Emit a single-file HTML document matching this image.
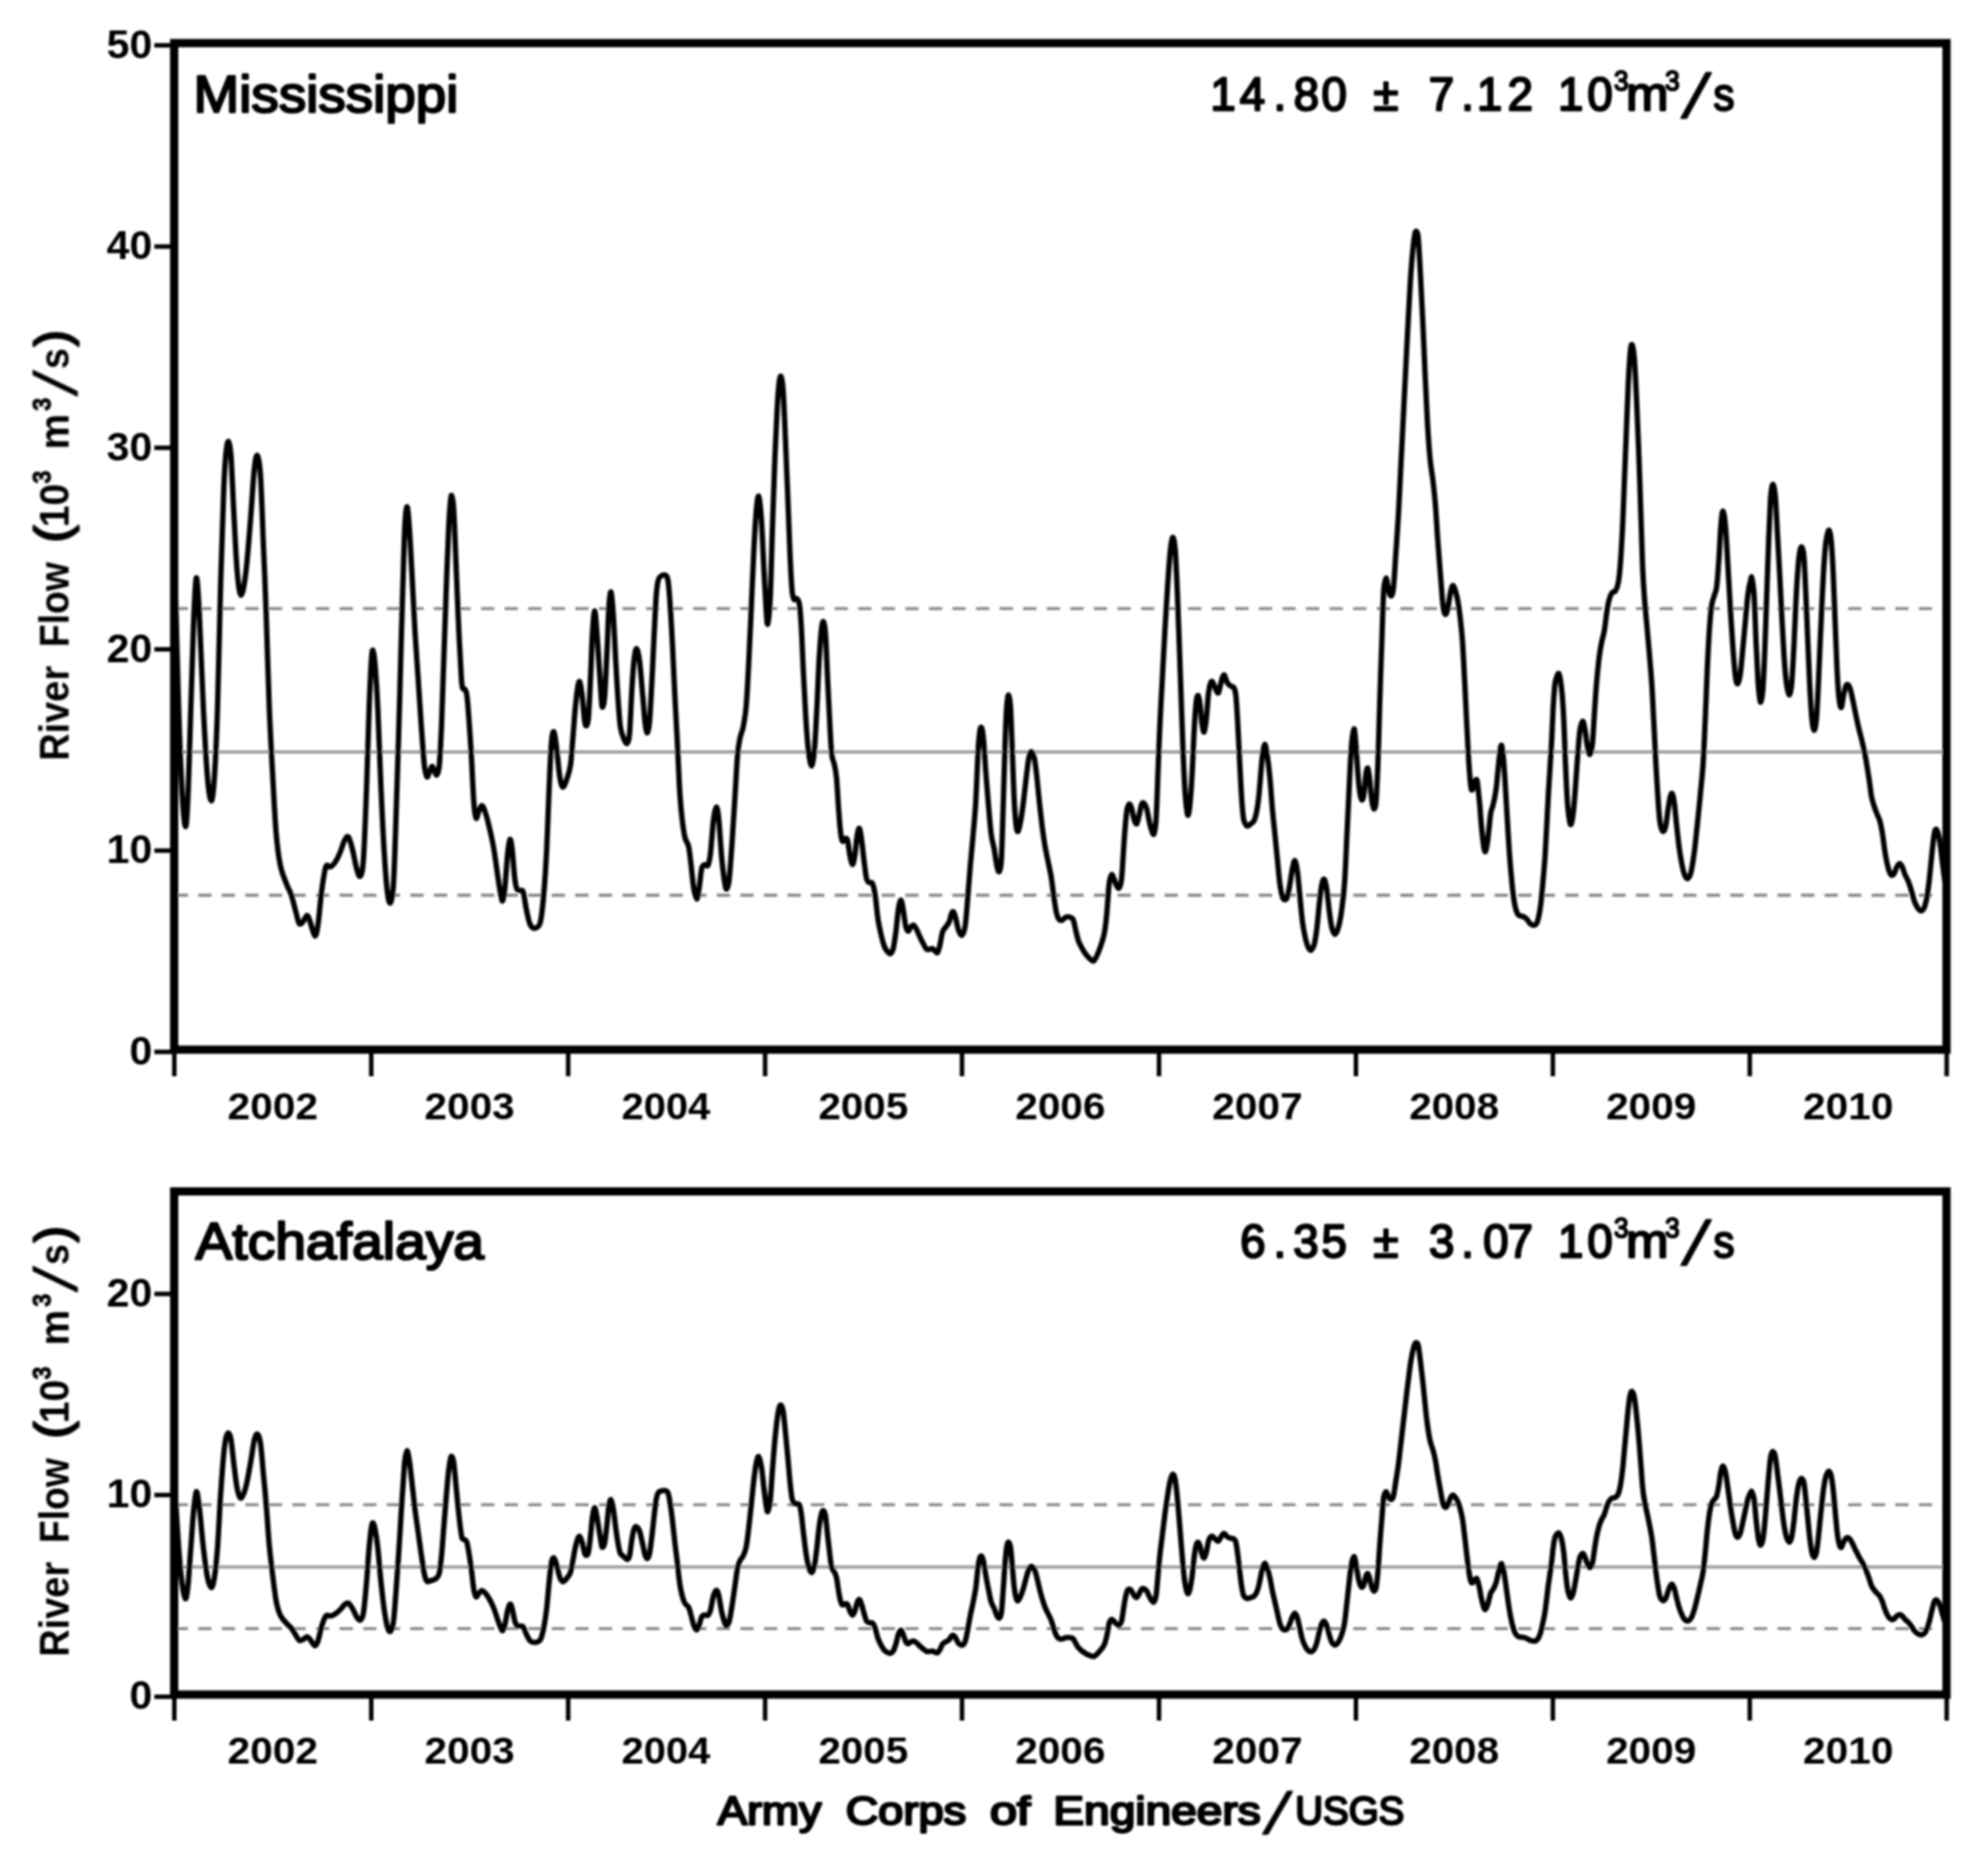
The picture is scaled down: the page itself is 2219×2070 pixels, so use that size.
<!DOCTYPE html>
<html lang="en"><head><meta charset="utf-8"><title>River Flow</title>
<style>html,body{margin:0;padding:0;background:#fff}svg{display:block}text{font-family:"Liberation Sans",sans-serif;fill:#000}.b{font-weight:bold}.m{stroke:#000;stroke-width:2.3px;stroke-linejoin:round}</style></head><body>
<svg width="2219" height="2070" viewBox="0 0 2219 2070">
<rect width="2219" height="2070" fill="#fff"/>
<filter id="bl" filterUnits="userSpaceOnUse" x="0" y="0" width="2219" height="2070"><feGaussianBlur stdDeviation="0.8"/></filter>
<g filter="url(#bl)">
<defs><clipPath id="c1"><rect x="194.4" y="48.1" width="1978.2999999999997" height="1123.2"/></clipPath><clipPath id="c2"><rect x="194.4" y="1329.5" width="1978.2999999999997" height="561.5"/></clipPath></defs>
<line x1="194.9" y1="679.2" x2="2172.7" y2="679.2" stroke="#878787" stroke-width="3.3" stroke-dasharray="14.8 11.51"/>
<line x1="194.9" y1="999" x2="2172.7" y2="999" stroke="#878787" stroke-width="3.3" stroke-dasharray="14.8 11.51"/>
<line x1="194.4" y1="839.2" x2="2172.7" y2="839.2" stroke="#a0a0a0" stroke-width="3.7"/>
<line x1="194.9" y1="1679.2" x2="2172.7" y2="1679.2" stroke="#878787" stroke-width="3.3" stroke-dasharray="14.8 11.51"/>
<line x1="194.9" y1="1817.4" x2="2172.7" y2="1817.4" stroke="#878787" stroke-width="3.3" stroke-dasharray="14.8 11.51"/>
<line x1="194.4" y1="1748.7" x2="2172.7" y2="1748.7" stroke="#a0a0a0" stroke-width="3.7"/>
<g clip-path="url(#c1)"><path d="M194.8,622.2C195.6,650.2 198.1,747.8 199.4,790.4C200.8,833.0 201.7,856.1 202.9,878.0C204.1,899.9 205.6,918.9 206.7,921.8C207.8,924.7 208.4,917.4 209.5,895.5C210.6,873.6 211.9,822.5 213.0,790.4C214.1,758.3 214.8,727.0 215.8,702.8C216.8,678.6 217.9,647.9 219.0,645.0C220.1,642.1 221.2,661.1 222.5,685.3C223.8,709.5 225.5,760.0 227.0,790.4C228.5,820.8 230.1,850.3 231.6,867.5C233.1,884.7 234.5,893.7 235.8,893.7C237.1,893.7 238.1,884.7 239.3,867.5C240.5,850.3 241.6,826.6 242.8,790.4C244.0,754.2 245.1,691.1 246.3,650.2C247.5,609.3 248.8,569.3 249.8,545.1C250.8,520.9 251.4,513.5 252.3,504.8C253.2,496.1 254.2,491.7 255.1,492.6C256.0,493.5 256.8,495.5 257.9,510.1C258.9,524.7 260.2,558.6 261.4,580.2C262.6,601.8 263.6,625.7 264.9,639.7C266.2,653.7 267.5,664.2 269.1,664.2C270.7,664.2 272.6,653.7 274.3,639.7C276.1,625.7 278.0,599.5 279.6,580.2C281.2,560.9 282.5,536.1 283.8,524.1C285.1,512.1 286.1,507.1 287.3,508.3C288.5,509.5 289.6,513.3 290.8,531.1C292.0,548.9 293.2,589.5 294.3,615.2C295.4,640.9 296.1,656.1 297.1,685.3C298.2,714.5 299.4,761.2 300.6,790.4C301.8,819.6 302.8,837.1 304.1,860.5C305.4,883.9 306.8,913.0 308.3,930.5C309.8,948.0 311.0,956.2 312.9,965.6C314.8,975.0 317.8,981.1 319.9,986.6C321.9,992.1 323.4,993.6 325.2,998.9C326.9,1004.1 328.9,1012.9 330.4,1018.1C331.8,1023.4 332.6,1028.7 333.9,1030.4C335.2,1032.2 336.6,1030.1 338.1,1028.6C339.6,1027.1 341.4,1021.6 342.7,1021.6C344.0,1021.6 344.8,1024.8 346.2,1028.6C347.6,1032.4 349.9,1043.8 351.4,1044.4C352.8,1045.0 353.6,1040.7 354.9,1032.2C356.2,1023.7 357.6,1004.4 359.1,993.6C360.6,982.8 362.1,971.7 363.7,967.3C365.3,962.9 367.2,968.2 369.0,967.3C370.8,966.4 372.4,964.7 374.2,962.1C375.9,959.5 377.8,955.7 379.5,951.6C381.2,947.5 383.1,940.4 384.7,937.5C386.3,934.6 387.4,932.2 388.9,934.0C390.4,935.8 392.0,942.2 393.5,948.1C395.0,954.0 396.6,964.2 398.0,969.1C399.4,974.0 400.9,979.5 402.2,977.8C403.5,976.0 404.5,975.2 405.7,958.6C406.9,942.0 408.1,906.0 409.2,878.0C410.2,850.0 411.1,813.8 412.0,790.4C412.9,767.0 413.8,748.6 414.5,737.8C415.2,727.0 415.6,725.0 416.3,725.6C417.0,726.2 417.7,730.5 418.6,741.3C419.5,752.1 420.6,767.6 421.7,790.4C422.8,813.2 424.0,851.7 425.2,878.0C426.4,904.3 427.5,928.8 428.7,948.1C429.9,967.4 431.0,983.7 432.2,993.6C433.4,1003.5 434.5,1008.8 435.7,1007.6C436.9,1006.4 438.1,1002.4 439.2,986.6C440.2,970.8 441.1,939.9 442.0,913.0C442.9,886.1 443.9,857.5 444.8,825.4C445.8,793.3 446.9,749.5 447.7,720.3C448.5,691.1 449.1,672.4 449.8,650.2C450.5,628.0 451.1,601.3 451.9,587.2C452.6,573.1 453.5,565.4 454.3,565.4C455.1,565.4 455.9,575.4 456.8,587.2C457.7,599.0 458.6,616.9 459.6,636.2C460.7,655.5 461.9,682.9 463.1,702.8C464.3,722.6 465.4,737.8 466.6,755.3C467.8,772.8 468.9,791.5 470.1,807.9C471.3,824.3 472.6,843.7 473.6,853.5C474.7,863.3 475.5,865.3 476.4,866.8C477.3,868.2 478.2,864.1 479.2,862.2C480.2,860.3 481.3,855.5 482.3,855.2C483.3,854.9 484.2,858.9 485.1,860.5C486.0,862.1 486.7,865.9 487.6,864.7C488.5,863.5 489.5,863.0 490.4,853.5C491.3,844.0 492.1,827.2 492.9,807.9C493.7,788.6 494.4,762.9 495.3,737.8C496.2,712.7 497.2,682.3 498.1,657.2C499.0,632.1 500.1,603.8 500.9,587.2C501.7,570.6 502.4,563.0 503.0,557.4C503.6,551.8 503.8,551.9 504.4,553.9C505.0,555.9 505.7,555.9 506.5,569.6C507.3,583.3 508.4,614.0 509.3,636.2C510.2,658.4 511.2,682.9 512.1,702.8C513.0,722.6 514.2,744.5 514.9,755.3C515.6,766.1 515.6,765.2 516.3,767.6C517.0,770.0 518.3,767.9 519.1,769.4C519.9,770.9 520.5,771.1 521.2,776.4C521.9,781.6 522.5,789.8 523.3,800.9C524.1,812.0 525.2,827.1 526.1,842.9C527.0,858.7 528.0,883.8 528.9,895.5C529.8,907.2 530.5,911.2 531.4,913.0C532.3,914.8 533.2,908.3 534.2,906.0C535.2,903.7 536.6,899.3 537.7,899.0C538.8,898.7 539.6,900.8 540.9,904.3C542.2,907.8 543.8,913.3 545.4,920.0C547.0,926.7 549.0,934.7 550.7,944.6C552.5,954.5 554.5,970.3 555.9,979.6C557.3,988.9 558.5,996.4 559.4,1000.6C560.3,1004.8 560.5,1006.5 561.2,1004.8C561.9,1003.0 562.7,998.4 563.6,990.1C564.5,981.8 565.5,964.0 566.4,955.1C567.3,946.2 568.3,938.0 569.2,936.8C570.1,935.6 570.8,941.0 571.7,948.1C572.6,955.2 573.6,972.3 574.5,979.6C575.4,986.9 575.9,989.6 576.9,991.9C577.9,994.2 579.2,993.0 580.4,993.6C581.6,994.2 582.8,991.9 584.0,995.4C585.2,998.9 586.2,1008.5 587.5,1014.6C588.8,1020.7 590.2,1028.7 592.0,1032.2C593.8,1035.7 596.1,1036.3 598.0,1035.7C599.9,1035.1 601.8,1034.4 603.2,1028.6C604.7,1022.7 605.5,1014.0 606.7,1000.6C607.9,987.2 609.2,968.5 610.2,948.1C611.2,927.7 612.1,897.9 613.0,878.0C613.9,858.1 614.6,839.1 615.5,828.9C616.4,818.7 617.3,815.5 618.3,816.7C619.3,817.9 620.3,827.4 621.4,835.9C622.5,844.4 623.7,860.4 624.9,867.5C626.1,874.6 627.1,878.4 628.5,878.4C629.9,878.4 631.9,871.6 633.3,867.5C634.7,863.4 635.8,860.5 636.8,853.5C637.8,846.5 638.4,835.9 639.3,825.4C640.2,814.9 641.2,799.7 642.1,790.4C643.0,781.1 643.7,774.4 644.5,769.4C645.3,764.4 646.1,759.4 647.0,760.6C647.9,761.8 648.9,769.1 649.8,776.4C650.7,783.7 651.8,798.8 652.6,804.4C653.4,810.0 654.0,810.3 654.7,809.7C655.4,809.1 656.0,810.0 656.8,800.9C657.5,791.8 658.5,771.1 659.2,755.3C660.0,739.5 660.5,718.5 661.3,706.3C662.1,694.0 663.0,681.8 663.8,681.8C664.6,681.8 665.4,695.2 666.3,706.3C667.2,717.4 668.2,735.4 669.1,748.3C670.0,761.1 670.9,776.7 671.5,783.4C672.1,790.1 672.3,789.8 672.9,788.6C673.5,787.4 674.2,786.6 675.0,776.4C675.8,766.2 676.7,743.6 677.5,727.3C678.3,710.9 678.9,689.4 679.6,678.3C680.4,667.2 681.2,659.5 682.0,660.7C682.8,661.9 683.6,672.4 684.5,685.3C685.4,698.1 686.4,721.4 687.3,737.8C688.2,754.1 689.2,771.1 690.1,783.4C691.0,795.7 691.5,804.7 692.5,811.4C693.5,818.1 694.8,820.7 696.0,823.7C697.2,826.7 698.8,830.5 699.9,829.6C701.0,828.7 701.8,827.9 702.7,818.4C703.6,808.9 704.3,786.3 705.1,772.9C705.9,759.5 706.7,746.0 707.6,737.8C708.5,729.6 709.4,723.8 710.4,723.8C711.4,723.8 712.7,729.0 713.9,737.8C715.1,746.6 716.3,764.7 717.4,776.4C718.5,788.1 719.3,801.0 720.2,807.9C721.1,814.8 721.9,818.3 722.7,817.7C723.5,817.1 724.2,814.8 725.1,804.4C726.0,794.0 727.0,772.2 727.9,755.3C728.8,738.4 729.6,718.0 730.4,702.8C731.2,687.6 731.8,673.6 732.5,664.2C733.2,654.9 733.9,650.3 734.9,646.7C735.9,643.1 737.1,643.3 738.4,642.5C739.7,641.7 741.4,641.1 742.6,641.8C743.8,642.5 744.6,642.4 745.4,646.7C746.2,651.0 746.7,656.7 747.5,667.8C748.3,678.9 749.4,695.8 750.3,713.3C751.2,730.8 752.2,754.2 753.1,772.9C754.0,791.6 755.0,807.9 755.9,825.4C756.8,842.9 757.6,864.0 758.4,878.0C759.2,892.0 759.9,900.2 760.9,909.5C761.9,918.8 763.1,928.1 764.4,934.0C765.7,939.9 767.4,939.3 768.6,944.6C769.8,949.9 770.5,958.0 771.4,965.6C772.3,973.2 773.2,983.8 774.2,990.1C775.2,996.4 776.7,1003.4 777.7,1003.4C778.8,1003.4 779.6,995.8 780.5,990.1C781.4,984.4 782.2,973.3 783.3,969.1C784.3,964.9 785.6,965.5 786.8,964.9C788.0,964.3 789.2,967.8 790.3,965.6C791.3,963.4 792.1,959.8 793.1,951.6C794.1,943.4 795.2,925.0 796.2,916.5C797.2,908.0 798.4,901.4 799.4,900.8C800.4,900.2 801.2,903.4 802.2,913.0C803.2,922.6 804.5,946.3 805.7,958.6C806.9,970.9 808.3,981.1 809.2,986.6C810.1,992.1 810.5,993.1 811.3,991.9C812.1,990.7 813.1,988.7 814.1,979.6C815.1,970.5 816.2,952.7 817.3,937.5C818.3,922.3 819.4,904.3 820.4,888.5C821.4,872.7 822.3,853.7 823.2,842.9C824.1,832.1 825.0,829.0 826.0,823.7C827.0,818.5 828.3,817.5 829.5,811.4C830.7,805.3 832.0,799.2 833.0,786.9C834.0,774.6 834.9,755.9 835.8,737.8C836.7,719.7 837.7,698.7 838.6,678.3C839.5,657.9 840.5,633.3 841.4,615.2C842.3,597.1 843.3,579.8 844.2,569.6C845.1,559.4 846.0,552.1 847.0,553.9C848.0,555.7 848.9,566.5 849.9,580.2C850.9,593.9 851.8,618.7 852.7,636.2C853.6,653.7 854.8,675.4 855.5,685.3C856.2,695.2 856.4,698.7 857.1,695.8C857.8,692.9 858.8,686.2 859.7,667.9C860.6,649.6 861.4,612.0 862.3,586.0C863.2,560.0 864.0,533.3 864.9,511.6C865.8,489.9 866.7,470.1 867.5,455.8C868.3,441.5 869.0,431.9 869.8,426.0C870.5,420.1 871.3,418.6 872.0,420.5C872.7,422.4 873.5,426.3 874.2,437.2C875.0,448.1 875.7,467.0 876.5,485.6C877.3,504.2 878.2,527.1 879.1,548.8C880.0,570.5 880.9,597.8 881.7,615.8C882.5,633.8 883.2,647.9 883.9,656.7C884.6,665.5 885.2,666.7 886.1,668.6C887.0,670.5 888.1,667.1 889.1,667.9C890.1,668.7 891.2,668.4 892.1,673.4C893.0,678.4 893.5,684.3 894.3,697.6C895.1,710.9 896.0,736.0 896.9,753.4C897.8,770.8 898.6,787.5 899.5,801.8C900.4,816.1 901.4,830.2 902.5,839.0C903.6,847.8 905.1,855.2 906.2,854.6C907.3,854.0 908.3,846.0 909.2,835.3C910.1,824.6 910.9,807.4 911.8,790.6C912.7,773.9 913.5,749.7 914.4,734.8C915.3,719.9 916.2,708.1 917.0,701.3C917.8,694.5 918.5,692.6 919.2,693.9C920.0,695.1 920.7,697.0 921.5,708.8C922.3,720.6 923.2,746.6 924.1,764.6C925.0,782.6 926.0,803.7 926.7,816.7C927.4,829.7 927.7,836.5 928.5,842.7C929.3,848.9 930.6,849.5 931.5,853.9C932.4,858.2 933.0,860.8 933.8,868.8C934.5,876.8 935.3,892.3 936.0,902.2C936.7,912.1 937.5,922.2 938.2,928.3C938.9,934.4 939.5,937.5 940.4,938.7C941.3,939.9 942.5,935.9 943.4,935.7C944.3,935.5 945.1,934.5 946.0,937.6C946.9,940.7 947.7,949.8 948.6,954.3C949.5,958.8 950.7,964.7 951.6,964.7C952.5,964.7 953.3,959.8 954.2,954.3C955.1,948.8 955.9,937.0 956.8,932.0C957.7,927.0 958.5,923.4 959.4,924.6C960.3,925.8 961.1,933.2 962.0,939.4C962.9,945.6 963.7,955.0 964.6,961.8C965.5,968.6 966.3,976.6 967.2,980.4C968.1,984.2 969.1,983.9 970.2,984.8C971.3,985.7 972.8,983.5 973.9,985.9C975.0,988.3 975.9,992.5 976.9,999.0C977.9,1005.5 978.8,1017.6 979.9,1025.0C981.0,1032.4 982.4,1038.3 983.6,1043.6C984.8,1048.9 986.1,1053.5 987.3,1056.6C988.5,1059.7 989.9,1061.0 991.0,1062.2C992.1,1063.5 993.0,1064.7 994.0,1064.1C995.0,1063.5 996.0,1062.5 997.0,1058.5C998.0,1054.5 999.0,1047.4 1000.0,1039.9C1001.0,1032.5 1001.9,1019.7 1002.9,1013.8C1003.9,1007.9 1005.0,1003.9 1005.9,1004.5C1006.8,1005.1 1007.6,1012.6 1008.5,1017.6C1009.4,1022.6 1010.2,1030.7 1011.1,1034.3C1012.0,1037.9 1012.8,1039.1 1013.7,1039.1C1014.6,1039.1 1015.7,1035.4 1016.7,1034.3C1017.7,1033.2 1018.7,1032.0 1019.7,1032.4C1020.8,1032.8 1021.8,1034.7 1023.0,1036.9C1024.2,1039.1 1025.5,1042.8 1026.8,1045.5C1028.0,1048.2 1029.3,1050.6 1030.5,1052.9C1031.7,1055.2 1033.0,1058.2 1034.2,1059.2C1035.4,1060.2 1036.8,1059.3 1037.9,1059.2C1039.0,1059.1 1039.9,1058.1 1040.9,1058.5C1041.9,1058.9 1043.0,1060.8 1043.9,1061.5C1044.8,1062.2 1045.6,1064.0 1046.5,1062.9C1047.4,1061.8 1048.2,1058.6 1049.1,1054.8C1050.0,1051.0 1051.0,1043.3 1052.1,1039.9C1053.2,1036.5 1054.6,1036.2 1055.8,1034.3C1057.0,1032.4 1058.5,1031.2 1059.5,1028.7C1060.5,1026.2 1061.3,1021.2 1062.1,1019.4C1062.9,1017.5 1063.5,1016.7 1064.3,1017.6C1065.1,1018.5 1066.0,1021.6 1066.9,1025.0C1067.8,1028.4 1068.7,1034.9 1069.9,1038.0C1071.1,1041.1 1072.7,1044.4 1074.0,1043.4C1075.3,1042.4 1076.5,1039.3 1077.5,1032.2C1078.5,1025.1 1079.4,1011.7 1080.3,1000.6C1081.2,989.5 1082.1,977.3 1083.1,965.6C1084.1,953.9 1085.3,942.2 1086.3,930.5C1087.3,918.8 1088.2,910.1 1089.1,895.5C1090.0,880.9 1090.8,856.0 1091.5,842.9C1092.2,829.8 1092.9,821.8 1093.6,816.7C1094.3,811.6 1095.0,810.7 1095.7,812.1C1096.4,813.5 1097.0,817.3 1097.8,825.4C1098.6,833.5 1099.4,848.8 1100.3,860.5C1101.2,872.2 1102.1,883.8 1103.1,895.5C1104.1,907.2 1105.2,921.7 1106.3,930.5C1107.4,939.3 1108.8,942.2 1109.8,948.1C1110.8,954.0 1111.7,961.5 1112.6,965.6C1113.5,969.7 1114.5,973.8 1115.4,972.6C1116.3,971.4 1117.0,971.5 1117.8,958.6C1118.5,945.8 1119.2,917.7 1119.9,895.5C1120.6,873.3 1121.3,843.5 1122.0,825.4C1122.7,807.3 1123.1,795.2 1123.8,786.9C1124.5,778.6 1125.2,775.1 1125.9,775.7C1126.6,776.3 1127.3,779.2 1128.0,790.4C1128.7,801.6 1129.4,825.4 1130.1,842.9C1130.8,860.4 1131.5,882.4 1132.2,895.5C1132.9,908.6 1133.6,916.4 1134.3,921.8C1135.0,927.2 1135.6,928.6 1136.4,927.7C1137.2,926.8 1138.2,921.9 1139.2,916.5C1140.2,911.1 1141.2,903.7 1142.3,895.5C1143.3,887.3 1144.5,875.7 1145.5,867.5C1146.5,859.3 1147.4,851.2 1148.3,846.4C1149.2,841.6 1150.0,838.7 1151.1,838.7C1152.1,838.7 1153.5,841.6 1154.6,846.4C1155.6,851.2 1156.5,859.3 1157.4,867.5C1158.3,875.7 1159.2,886.2 1160.2,895.5C1161.2,904.8 1162.4,915.3 1163.4,923.5C1164.5,931.7 1165.4,938.2 1166.5,944.6C1167.6,951.0 1168.8,956.3 1170.0,962.1C1171.2,967.9 1172.5,973.2 1173.5,979.6C1174.5,986.0 1175.4,994.2 1176.3,1000.6C1177.2,1007.0 1178.2,1013.9 1179.1,1018.1C1180.0,1022.3 1180.9,1024.3 1181.9,1025.8C1183.0,1027.3 1184.1,1027.3 1185.4,1026.9C1186.7,1026.5 1188.2,1024.0 1189.6,1023.4C1191.0,1022.8 1192.4,1023.0 1193.8,1023.4C1195.2,1023.8 1196.6,1023.8 1197.7,1025.8C1198.8,1027.8 1199.2,1031.7 1200.2,1035.7C1201.2,1039.7 1202.4,1045.9 1203.7,1049.7C1205.0,1053.5 1206.5,1055.8 1207.9,1058.4C1209.4,1061.0 1211.0,1063.5 1212.4,1065.4C1213.9,1067.3 1215.2,1068.8 1216.6,1070.0C1217.9,1071.2 1219.3,1072.9 1220.5,1072.4C1221.7,1071.9 1222.7,1069.8 1224.0,1067.2C1225.3,1064.6 1226.8,1060.8 1228.2,1056.7C1229.6,1052.6 1231.2,1048.5 1232.4,1042.7C1233.6,1036.9 1234.3,1031.0 1235.2,1021.6C1236.1,1012.2 1237.1,994.2 1238.0,986.6C1238.9,979.0 1239.9,977.0 1240.8,976.1C1241.7,975.2 1242.7,979.2 1243.6,981.3C1244.5,983.3 1245.5,986.8 1246.4,988.4C1247.3,990.0 1248.3,992.3 1249.2,990.8C1250.1,989.3 1251.1,988.5 1252.0,979.6C1252.9,970.7 1253.9,949.8 1254.8,937.5C1255.7,925.2 1256.7,912.7 1257.6,906.0C1258.5,899.3 1259.5,897.9 1260.4,897.3C1261.3,896.7 1262.3,899.6 1263.2,902.5C1264.1,905.4 1265.1,912.0 1266.0,914.8C1266.9,917.6 1267.9,920.2 1268.8,919.3C1269.7,918.4 1270.7,913.2 1271.6,909.5C1272.5,905.8 1273.5,899.4 1274.4,897.3C1275.3,895.1 1276.3,895.7 1277.2,896.6C1278.1,897.5 1279.1,899.2 1280.0,902.5C1280.9,905.8 1281.9,912.4 1282.8,916.5C1283.7,920.6 1284.7,924.7 1285.6,927.0C1286.5,929.3 1287.3,932.8 1288.1,930.5C1288.9,928.2 1289.8,924.7 1290.5,913.0C1291.2,901.3 1291.9,878.0 1292.6,860.5C1293.3,843.0 1293.9,825.4 1294.7,807.9C1295.5,790.4 1296.6,772.8 1297.5,755.3C1298.4,737.8 1299.4,719.1 1300.3,702.8C1301.2,686.4 1302.2,671.2 1303.1,657.2C1304.0,643.2 1305.1,627.8 1305.9,618.7C1306.7,609.7 1307.3,605.9 1308.0,602.9C1308.7,599.9 1309.1,598.5 1309.8,600.5C1310.5,602.5 1311.2,605.8 1311.9,615.2C1312.6,624.7 1313.3,640.9 1314.0,657.2C1314.7,673.6 1315.4,694.0 1316.1,713.3C1316.8,732.6 1317.5,753.0 1318.2,772.9C1318.9,792.8 1319.6,814.9 1320.3,832.4C1321.0,849.9 1321.7,866.3 1322.4,878.0C1323.1,889.7 1323.8,897.2 1324.5,902.5C1325.2,907.8 1325.6,910.7 1326.3,909.5C1327.0,908.3 1327.7,903.7 1328.4,895.5C1329.2,887.3 1330.0,875.1 1330.8,860.5C1331.6,845.9 1332.5,821.0 1333.3,807.9C1334.1,794.8 1334.7,786.9 1335.4,781.6C1336.1,776.4 1336.8,775.5 1337.5,776.4C1338.2,777.3 1338.9,781.6 1339.6,786.9C1340.3,792.1 1341.0,802.9 1341.7,807.9C1342.5,812.9 1343.3,817.9 1344.1,816.7C1344.9,815.5 1345.8,808.2 1346.6,800.9C1347.4,793.6 1348.2,779.3 1349.0,772.9C1349.8,766.5 1350.4,764.4 1351.1,762.4C1351.8,760.4 1352.4,760.0 1353.2,760.6C1354.0,761.2 1354.9,764.1 1355.7,765.9C1356.5,767.6 1357.0,769.9 1357.8,771.1C1358.5,772.3 1359.4,774.4 1360.2,772.9C1361.0,771.4 1361.9,765.4 1362.7,762.4C1363.5,759.4 1364.4,756.1 1365.1,754.6C1365.8,753.1 1366.2,752.6 1366.9,753.6C1367.6,754.6 1368.5,758.9 1369.3,760.6C1370.1,762.4 1370.9,763.2 1371.8,764.1C1372.7,765.0 1373.7,765.3 1374.6,765.9C1375.5,766.5 1376.6,765.9 1377.4,767.6C1378.2,769.4 1378.8,769.7 1379.5,776.4C1380.2,783.1 1380.9,795.6 1381.6,807.9C1382.3,820.2 1383.0,836.6 1383.7,850.0C1384.4,863.4 1385.1,878.0 1385.8,888.5C1386.5,899.0 1387.1,907.8 1387.9,913.0C1388.7,918.2 1389.6,918.5 1390.4,920.0C1391.2,921.5 1391.8,921.9 1392.8,921.8C1393.8,921.7 1395.1,920.3 1396.3,919.3C1397.5,918.3 1398.8,918.0 1399.8,915.8C1400.8,913.6 1401.7,910.5 1402.6,906.0C1403.5,901.5 1404.3,896.1 1405.1,888.5C1405.9,880.9 1406.8,868.7 1407.5,860.5C1408.2,852.3 1408.8,844.4 1409.6,839.4C1410.4,834.4 1411.3,830.1 1412.1,830.7C1412.9,831.3 1413.6,836.8 1414.5,842.9C1415.4,849.0 1416.5,857.6 1417.4,867.5C1418.4,877.4 1419.3,892.0 1420.2,902.5C1421.1,913.0 1422.1,921.1 1423.0,930.5C1423.9,939.9 1424.9,949.2 1425.8,958.6C1426.7,968.0 1427.7,979.6 1428.6,986.6C1429.5,993.6 1430.5,997.7 1431.4,1000.6C1432.3,1003.5 1433.3,1004.1 1434.2,1004.1C1435.1,1004.1 1436.1,1003.5 1437.0,1000.6C1437.9,997.7 1438.9,991.9 1439.8,986.6C1440.7,981.4 1441.7,973.5 1442.6,969.1C1443.5,964.7 1444.5,959.7 1445.4,960.3C1446.3,960.9 1447.3,965.9 1448.2,972.6C1449.1,979.3 1450.1,991.3 1451.0,1000.6C1451.9,1009.9 1452.8,1021.0 1453.8,1028.6C1454.8,1036.2 1455.9,1041.5 1456.9,1046.2C1458.0,1050.9 1459.0,1054.4 1460.1,1056.7C1461.2,1059.0 1462.4,1060.8 1463.6,1060.2C1464.8,1059.6 1466.0,1057.3 1467.1,1053.2C1468.1,1049.1 1469.0,1043.3 1469.9,1035.7C1470.8,1028.1 1471.8,1015.8 1472.7,1007.6C1473.6,999.4 1474.6,991.0 1475.5,986.6C1476.4,982.2 1477.4,980.1 1478.3,981.3C1479.2,982.5 1480.2,987.5 1481.1,993.6C1482.0,999.7 1483.0,1011.1 1483.9,1018.1C1484.8,1025.1 1485.7,1031.6 1486.7,1035.7C1487.8,1039.8 1489.0,1042.7 1490.2,1042.7C1491.4,1042.7 1492.5,1039.8 1493.7,1035.7C1494.9,1031.6 1496.0,1026.3 1497.2,1018.1C1498.4,1009.9 1499.7,1001.2 1500.7,986.6C1501.8,972.0 1502.6,948.6 1503.5,930.5C1504.4,912.4 1505.2,894.4 1506.0,878.0C1506.8,861.6 1507.6,843.2 1508.5,832.4C1509.4,821.6 1510.5,813.7 1511.3,813.2C1512.1,812.7 1512.7,822.5 1513.3,829.2C1513.9,835.9 1514.4,845.4 1515.0,853.5C1515.6,861.6 1516.3,871.6 1517.0,877.7C1517.7,883.8 1518.2,887.5 1518.9,889.9C1519.6,892.3 1520.2,893.5 1520.9,892.3C1521.6,891.1 1522.2,887.5 1522.8,882.6C1523.4,877.8 1524.0,867.5 1524.7,863.2C1525.4,859.0 1526.1,856.3 1526.7,857.1C1527.3,857.9 1527.9,862.9 1528.6,868.0C1529.2,873.1 1529.9,882.2 1530.6,887.5C1531.2,892.8 1531.9,897.1 1532.5,899.6C1533.1,902.1 1533.6,903.3 1534.2,902.5C1534.8,901.7 1535.3,901.2 1535.9,894.7C1536.5,888.2 1537.1,874.1 1537.6,863.2C1538.1,852.3 1538.4,842.1 1538.8,829.2C1539.2,816.3 1539.6,798.9 1540.0,785.6C1540.4,772.3 1540.8,761.3 1541.2,749.2C1541.6,737.1 1542.1,724.9 1542.5,712.8C1542.9,700.7 1543.3,686.1 1543.7,676.4C1544.1,666.7 1544.3,659.9 1544.9,654.6C1545.5,649.4 1546.4,645.0 1547.1,644.9C1547.8,644.8 1548.5,651.0 1549.2,654.0C1549.9,657.0 1550.5,661.3 1551.2,663.0C1551.9,664.7 1552.9,665.8 1553.6,664.3C1554.3,662.8 1554.8,662.2 1555.6,654.0C1556.4,645.8 1557.3,628.1 1558.2,615.2C1559.1,602.3 1559.9,591.5 1560.8,576.4C1561.7,561.3 1562.5,541.9 1563.4,524.6C1564.3,507.4 1565.1,490.1 1566.0,472.9C1566.9,455.6 1567.7,438.4 1568.6,421.1C1569.5,403.9 1570.3,385.8 1571.2,369.4C1572.1,353.0 1572.9,336.6 1573.7,322.8C1574.5,309.0 1575.4,296.5 1576.3,286.6C1577.2,276.7 1578.1,268.1 1578.9,263.3C1579.7,258.6 1580.3,257.7 1581.0,258.1C1581.7,258.5 1582.4,258.1 1583.1,265.9C1583.8,273.7 1584.6,289.6 1585.4,304.7C1586.2,319.8 1587.1,337.9 1588.0,356.4C1588.9,374.9 1589.8,397.3 1590.6,415.9C1591.4,434.4 1592.2,451.7 1593.1,467.7C1594.0,483.7 1595.1,500.1 1596.2,511.7C1597.3,523.3 1598.6,528.9 1599.6,537.5C1600.6,546.1 1601.3,552.6 1602.2,563.4C1603.1,574.2 1603.9,590.1 1604.8,602.2C1605.7,614.3 1606.5,624.7 1607.4,635.9C1608.3,647.1 1609.3,661.8 1610.0,669.5C1610.7,677.2 1611.2,679.7 1611.8,682.4C1612.4,685.1 1613.1,685.9 1613.8,685.5C1614.5,685.1 1615.2,682.9 1615.9,679.8C1616.6,676.7 1617.3,670.8 1618.0,666.9C1618.7,663.0 1619.4,658.8 1620.1,656.6C1620.8,654.4 1621.3,652.8 1622.1,653.5C1622.9,654.2 1624.0,657.6 1624.9,660.6C1625.8,663.6 1626.6,666.9 1627.4,671.5C1628.2,676.1 1629.0,681.6 1629.8,688.5C1630.6,695.4 1631.5,703.9 1632.2,712.8C1632.9,721.7 1633.4,732.2 1633.9,741.9C1634.4,751.6 1634.9,761.3 1635.4,771.0C1635.9,780.7 1636.3,790.4 1636.8,800.1C1637.3,809.8 1637.8,820.3 1638.3,829.2C1638.8,838.1 1639.2,846.2 1639.7,853.5C1640.2,860.8 1640.7,868.2 1641.2,872.9C1641.7,877.5 1642.0,880.4 1642.6,881.4C1643.2,882.4 1643.9,880.6 1644.6,879.0C1645.2,877.4 1645.8,873.1 1646.5,871.7C1647.2,870.3 1647.9,869.1 1648.5,870.5C1649.1,871.9 1649.4,875.8 1649.9,880.2C1650.4,884.7 1651.0,890.7 1651.6,897.2C1652.2,903.7 1652.7,912.1 1653.3,919.0C1653.9,925.9 1654.7,933.5 1655.3,938.4C1655.9,943.2 1656.2,946.2 1656.7,948.1C1657.2,950.0 1657.6,951.2 1658.2,950.0C1658.8,948.8 1659.4,945.2 1660.1,940.8C1660.8,936.4 1661.4,929.4 1662.1,923.8C1662.8,918.1 1663.3,910.9 1664.0,906.9C1664.7,902.9 1665.5,902.4 1666.2,899.6C1666.9,896.8 1667.7,893.5 1668.4,889.9C1669.1,886.2 1669.7,883.0 1670.3,877.7C1670.9,872.4 1671.5,864.8 1672.2,858.3C1672.9,851.8 1673.6,843.3 1674.2,838.9C1674.8,834.5 1675.4,830.5 1676.1,831.7C1676.8,832.9 1677.4,839.3 1678.1,846.2C1678.8,853.1 1679.3,862.8 1680.0,872.9C1680.7,883.0 1681.3,896.0 1682.0,906.9C1682.7,917.8 1683.3,928.7 1683.9,938.4C1684.5,948.1 1685.1,956.6 1685.8,965.1C1686.5,973.6 1687.3,982.4 1688.0,989.3C1688.7,996.2 1689.5,1001.8 1690.2,1006.3C1690.9,1010.8 1691.6,1013.6 1692.4,1016.0C1693.2,1018.4 1693.9,1019.9 1694.8,1020.9C1695.7,1021.9 1696.6,1021.7 1697.7,1022.1C1698.8,1022.5 1700.3,1022.7 1701.4,1023.3C1702.5,1023.9 1703.3,1024.6 1704.3,1025.7C1705.3,1026.8 1706.3,1029.0 1707.4,1030.1C1708.5,1031.2 1709.9,1032.3 1711.1,1032.5C1712.3,1032.7 1713.7,1032.6 1714.7,1031.1C1715.8,1029.6 1716.6,1027.0 1717.4,1023.3C1718.2,1019.6 1719.0,1015.3 1719.8,1008.8C1720.6,1002.3 1721.4,993.4 1722.2,984.5C1723.0,975.6 1723.9,966.3 1724.6,955.4C1725.3,944.5 1725.9,931.1 1726.6,919.0C1727.2,906.9 1727.8,893.9 1728.5,882.6C1729.2,871.3 1729.9,861.2 1730.5,851.1C1731.1,841.0 1731.7,832.1 1732.2,822.0C1732.7,811.9 1733.1,799.7 1733.6,790.4C1734.1,781.1 1734.8,771.7 1735.3,766.2C1735.8,760.8 1736.0,760.1 1736.8,757.7C1737.6,755.3 1739.0,750.2 1740.0,751.7C1741.0,753.2 1741.9,758.7 1742.8,766.4C1743.7,774.1 1744.5,784.0 1745.2,798.0C1746.0,812.0 1746.6,834.7 1747.3,850.5C1748.0,866.3 1748.7,882.1 1749.4,892.6C1750.1,903.1 1750.8,909.1 1751.5,913.6C1752.2,918.1 1752.8,921.1 1753.6,919.9C1754.4,918.7 1755.3,913.5 1756.1,906.6C1756.9,899.7 1757.7,889.1 1758.5,878.6C1759.3,868.1 1760.2,854.0 1761.0,843.5C1761.8,833.0 1762.6,821.6 1763.4,815.5C1764.2,809.4 1764.9,808.3 1765.6,806.7C1766.2,805.1 1766.7,804.2 1767.3,805.7C1767.9,807.2 1768.6,811.0 1769.4,815.5C1770.2,820.0 1771.0,828.6 1771.9,833.0C1772.8,837.4 1773.8,842.4 1774.7,841.8C1775.6,841.2 1776.7,836.8 1777.5,829.5C1778.3,822.2 1778.8,809.1 1779.6,798.0C1780.3,786.9 1781.1,773.4 1782.0,762.9C1782.9,752.4 1783.9,742.5 1784.8,734.9C1785.7,727.3 1786.6,722.6 1787.6,717.4C1788.6,712.1 1789.8,709.2 1790.8,703.4C1791.8,697.6 1792.7,688.2 1793.6,682.4C1794.5,676.5 1795.4,671.8 1796.4,668.3C1797.4,664.8 1798.4,662.8 1799.5,661.3C1800.6,659.8 1801.9,661.4 1803.0,659.6C1804.1,657.9 1805.3,655.8 1806.2,650.8C1807.1,645.8 1807.8,640.3 1808.6,629.8C1809.4,619.3 1810.3,603.6 1811.1,587.8C1811.9,572.0 1812.5,552.7 1813.2,535.2C1813.9,517.7 1814.6,500.1 1815.3,482.6C1816.0,465.1 1816.7,444.7 1817.4,430.1C1818.1,415.5 1818.8,402.6 1819.5,395.0C1820.2,387.4 1820.8,383.9 1821.6,384.5C1822.4,385.1 1823.3,389.1 1824.1,398.5C1824.9,407.9 1825.7,423.7 1826.5,440.6C1827.3,457.6 1828.2,478.6 1829.0,500.2C1829.8,521.8 1830.7,548.0 1831.4,570.2C1832.2,592.4 1832.8,616.9 1833.5,633.3C1834.2,649.6 1834.8,657.8 1835.6,668.3C1836.4,678.8 1837.2,686.5 1838.1,696.4C1839.0,706.3 1840.0,716.8 1840.9,727.9C1841.8,739.0 1842.8,749.5 1843.7,762.9C1844.6,776.3 1845.3,793.9 1846.1,808.5C1846.8,823.1 1847.5,837.6 1848.2,850.5C1848.9,863.4 1849.6,875.1 1850.3,885.6C1851.0,896.1 1851.7,907.1 1852.4,913.6C1853.1,920.1 1853.7,922.5 1854.5,924.8C1855.3,927.1 1856.2,928.3 1857.0,927.6C1857.8,926.9 1858.7,924.7 1859.5,920.6C1860.3,916.5 1861.1,908.4 1861.9,903.1C1862.7,897.9 1863.6,892.0 1864.4,889.1C1865.2,886.2 1865.8,884.4 1866.5,885.6C1867.2,886.8 1868.1,890.3 1868.9,896.1C1869.7,901.9 1870.5,912.4 1871.4,920.6C1872.3,928.8 1873.3,938.1 1874.2,945.1C1875.1,952.1 1876.0,957.4 1877.0,962.7C1878.0,968.0 1879.3,973.8 1880.5,976.7C1881.7,979.6 1882.8,980.8 1884.0,980.2C1885.2,979.6 1886.3,977.9 1887.5,973.2C1888.7,968.5 1889.8,961.0 1891.0,952.2C1892.2,943.4 1893.3,931.7 1894.5,920.6C1895.7,909.5 1896.9,897.3 1898.0,885.6C1899.1,873.9 1900.2,865.1 1901.1,850.5C1902.0,835.9 1902.8,815.5 1903.6,798.0C1904.4,780.5 1904.9,761.8 1905.7,745.4C1906.5,729.0 1907.4,711.6 1908.2,699.9C1909.0,688.2 1909.7,681.1 1910.6,675.3C1911.5,669.4 1912.5,668.3 1913.4,664.8C1914.3,661.3 1915.3,661.3 1916.2,654.3C1917.1,647.3 1917.9,633.9 1918.7,622.8C1919.5,611.7 1920.0,596.6 1920.8,587.8C1921.5,579.0 1922.3,570.2 1923.2,570.2C1924.1,570.2 1925.1,577.3 1926.0,587.8C1926.9,598.3 1927.9,617.5 1928.8,633.3C1929.7,649.1 1930.7,667.2 1931.6,682.4C1932.5,697.6 1933.5,712.1 1934.4,724.4C1935.3,736.6 1936.3,749.5 1937.2,755.9C1938.1,762.3 1938.8,763.5 1939.7,762.9C1940.6,762.3 1941.6,758.8 1942.5,752.4C1943.4,746.0 1944.3,734.9 1945.3,724.4C1946.3,713.9 1947.5,699.9 1948.5,689.4C1949.5,678.9 1950.4,668.3 1951.3,661.3C1952.2,654.3 1953.4,650.0 1954.1,647.3C1954.8,644.6 1954.8,642.2 1955.4,645.0C1956.0,647.8 1957.1,651.7 1957.9,664.2C1958.7,676.8 1959.5,703.9 1960.3,720.3C1961.0,736.7 1961.8,752.5 1962.4,762.4C1963.1,772.3 1963.7,776.5 1964.2,779.9C1964.7,783.3 1965.0,784.5 1965.6,782.7C1966.2,781.0 1967.0,778.6 1967.7,769.4C1968.4,760.2 1969.1,744.2 1969.8,727.3C1970.5,710.4 1971.2,687.6 1971.9,667.8C1972.6,647.9 1973.3,626.3 1974.0,608.2C1974.7,590.1 1975.5,569.9 1976.1,559.1C1976.7,548.3 1977.2,546.3 1977.8,543.4C1978.4,540.5 1978.9,539.6 1979.6,541.6C1980.2,543.6 1981.0,546.2 1981.7,555.6C1982.5,565.0 1983.3,583.1 1984.1,597.7C1984.9,612.3 1985.8,627.4 1986.6,643.2C1987.4,659.0 1988.3,677.1 1989.1,692.3C1989.9,707.5 1990.7,722.6 1991.5,734.3C1992.3,746.0 1993.2,756.0 1994.0,762.4C1994.8,768.8 1995.5,770.9 1996.1,772.9C1996.7,774.9 1997.2,776.4 1997.8,774.6C1998.4,772.9 1999.1,771.5 1999.9,762.4C2000.7,753.3 2001.6,736.1 2002.4,720.3C2003.2,704.5 2004.0,683.0 2004.8,667.8C2005.6,652.6 2006.5,638.3 2007.3,629.2C2008.1,620.1 2008.7,616.4 2009.4,613.4C2010.1,610.4 2010.8,609.5 2011.5,611.0C2012.2,612.5 2012.9,613.3 2013.6,622.2C2014.3,631.1 2015.0,649.0 2015.7,664.2C2016.4,679.4 2017.1,696.9 2017.8,713.3C2018.5,729.7 2019.2,748.4 2019.9,762.4C2020.6,776.4 2021.4,789.2 2022.0,797.4C2022.6,805.6 2023.1,808.6 2023.7,811.4C2024.3,814.2 2024.8,816.0 2025.5,814.2C2026.2,812.5 2026.9,809.5 2027.6,800.9C2028.3,792.3 2029.0,777.0 2029.7,762.4C2030.4,747.8 2031.1,729.1 2031.8,713.3C2032.5,697.5 2033.2,681.8 2033.9,667.8C2034.6,653.8 2035.3,639.7 2036.0,629.2C2036.7,618.7 2037.4,610.5 2038.1,604.7C2038.8,598.9 2039.5,596.2 2040.2,594.2C2040.9,592.2 2041.3,590.6 2042.0,592.4C2042.7,594.1 2043.4,596.8 2044.1,604.7C2044.8,612.6 2045.5,625.1 2046.2,639.7C2046.9,654.3 2047.6,674.8 2048.3,692.3C2049.0,709.8 2049.8,731.4 2050.4,744.8C2051.0,758.2 2051.5,765.9 2052.1,772.9C2052.7,779.9 2053.3,784.3 2053.9,786.9C2054.5,789.5 2055.0,790.4 2055.6,788.6C2056.2,786.9 2056.9,780.2 2057.7,776.4C2058.5,772.6 2059.4,767.9 2060.2,765.9C2061.0,763.9 2061.7,763.5 2062.6,764.1C2063.5,764.7 2064.5,766.5 2065.4,769.4C2066.3,772.3 2067.2,776.9 2068.2,781.6C2069.2,786.3 2070.3,792.1 2071.4,797.4C2072.5,802.7 2073.7,808.2 2074.9,813.2C2076.1,818.2 2077.4,822.8 2078.4,827.2C2079.4,831.6 2080.3,835.0 2081.2,839.4C2082.1,843.8 2082.8,848.2 2083.7,853.5C2084.6,858.8 2085.6,865.2 2086.5,871.0C2087.4,876.8 2088.0,883.8 2088.9,888.5C2089.8,893.2 2090.7,895.8 2091.7,899.0C2092.7,902.2 2093.8,904.9 2094.9,907.8C2096.0,910.7 2097.4,912.7 2098.4,916.5C2099.4,920.3 2100.3,925.2 2101.2,930.5C2102.1,935.8 2102.8,942.8 2103.6,948.1C2104.4,953.4 2105.2,958.0 2106.1,962.1C2107.0,966.2 2108.0,970.2 2108.9,972.6C2109.8,975.0 2110.8,976.5 2111.7,976.8C2112.6,977.1 2113.6,975.9 2114.5,974.3C2115.4,972.7 2116.3,969.0 2117.3,967.3C2118.3,965.5 2119.4,963.8 2120.4,963.8C2121.4,963.8 2122.3,965.2 2123.3,967.3C2124.3,969.3 2125.3,973.5 2126.4,976.1C2127.5,978.7 2128.7,980.2 2129.9,983.1C2131.1,986.0 2132.2,989.8 2133.4,993.6C2134.6,997.4 2135.7,1002.7 2136.9,1005.9C2138.1,1009.1 2139.2,1011.1 2140.4,1012.9C2141.6,1014.6 2143.1,1016.4 2144.3,1016.4C2145.5,1016.4 2146.7,1015.5 2147.8,1012.9C2148.9,1010.3 2149.9,1006.1 2150.9,1000.6C2151.9,995.1 2152.8,987.8 2153.7,979.6C2154.6,971.4 2155.6,959.8 2156.5,951.6C2157.4,943.4 2158.2,934.9 2159.0,930.5C2159.8,926.1 2160.3,925.3 2161.1,925.3C2161.8,925.3 2162.7,927.3 2163.5,930.5C2164.3,933.7 2165.2,938.8 2166.0,944.6C2166.8,950.5 2167.6,958.6 2168.5,965.6C2169.4,972.6 2170.8,983.1 2171.3,986.6" fill="none" stroke="#000" stroke-width="6.0" stroke-linejoin="round" stroke-linecap="round"/></g>
<g clip-path="url(#c2)"><path d="M194.8,1654.9C195.6,1666.9 198.1,1708.9 199.4,1727.2C200.8,1745.5 201.7,1755.5 202.9,1764.9C204.1,1774.3 205.6,1782.5 206.7,1783.7C207.8,1785.0 208.4,1781.8 209.5,1772.4C210.6,1763.0 211.9,1741.0 213.0,1727.2C214.1,1713.4 214.8,1700.0 215.8,1689.5C216.8,1679.1 217.9,1665.9 219.0,1664.7C220.1,1663.4 221.2,1671.6 222.5,1682.0C223.8,1692.4 225.5,1714.2 227.0,1727.2C228.5,1740.3 230.1,1753.0 231.6,1760.4C233.1,1767.8 234.5,1771.6 235.8,1771.6C237.1,1771.6 238.1,1767.8 239.3,1760.4C240.5,1753.0 241.6,1742.8 242.8,1727.2C244.0,1711.6 245.1,1684.5 246.3,1666.9C247.5,1649.3 248.8,1632.2 249.8,1621.7C250.8,1611.3 251.4,1608.2 252.3,1604.4C253.2,1600.6 254.2,1598.8 255.1,1599.2C256.0,1599.5 256.8,1600.4 257.9,1606.7C258.9,1612.9 260.2,1627.5 261.4,1636.7C262.6,1645.8 263.6,1656.0 264.9,1661.8C266.2,1667.7 267.5,1672.1 269.1,1671.7C270.7,1671.4 272.6,1666.2 274.3,1659.7C276.1,1653.2 278.0,1641.4 279.6,1632.6C281.2,1623.9 282.5,1612.7 283.8,1607.3C285.1,1601.9 286.1,1599.7 287.3,1600.3C288.5,1600.9 289.6,1603.0 290.8,1610.9C292.0,1618.9 293.2,1636.6 294.3,1647.9C295.4,1659.2 296.1,1665.9 297.1,1678.8C298.2,1691.6 299.4,1712.0 300.6,1724.8C301.8,1737.6 302.8,1745.4 304.1,1755.8C305.4,1766.1 306.8,1779.1 308.3,1786.9C309.8,1794.7 311.0,1798.4 312.9,1802.5C314.8,1806.7 317.8,1809.2 319.9,1811.6C321.9,1814.0 323.4,1814.6 325.2,1816.9C326.9,1819.1 328.9,1822.9 330.4,1825.1C331.8,1827.4 332.6,1829.7 333.9,1830.4C335.2,1831.2 336.6,1830.3 338.1,1829.6C339.6,1829.0 341.4,1826.6 342.7,1826.6C344.0,1826.6 344.8,1828.0 346.2,1829.6C347.6,1831.3 349.9,1836.2 351.4,1836.4C352.8,1836.7 353.6,1834.8 354.9,1831.2C356.2,1827.5 357.6,1819.2 359.1,1814.6C360.6,1809.9 362.1,1805.2 363.7,1803.3C365.3,1801.4 367.2,1803.7 369.0,1803.3C370.8,1802.9 372.4,1802.2 374.2,1801.0C375.9,1799.9 377.8,1798.3 379.5,1796.5C381.2,1794.8 383.1,1791.7 384.7,1790.5C386.3,1789.2 387.4,1788.2 388.9,1789.0C390.4,1789.7 392.0,1792.5 393.5,1795.0C395.0,1797.5 396.6,1801.9 398.0,1804.1C399.4,1806.2 400.9,1808.5 402.2,1807.8C403.5,1807.0 404.5,1806.7 405.7,1799.5C406.9,1792.4 408.1,1776.9 409.2,1764.9C410.2,1752.8 411.1,1737.3 412.0,1727.2C412.9,1717.2 413.8,1709.2 414.5,1704.6C415.2,1700.0 415.6,1699.1 416.3,1699.3C417.0,1699.6 417.7,1701.5 418.6,1706.1C419.5,1710.7 420.6,1717.4 421.7,1727.2C422.8,1737.0 424.0,1753.6 425.2,1764.9C426.4,1776.2 427.5,1786.7 428.7,1795.0C429.9,1803.3 431.0,1810.3 432.2,1814.6C433.4,1818.9 434.5,1821.4 435.7,1820.6C436.9,1819.8 438.1,1817.0 439.2,1809.6C440.2,1802.2 441.1,1788.3 442.0,1776.2C442.9,1764.0 443.9,1751.1 444.8,1736.7C445.8,1722.3 446.9,1702.8 447.7,1689.7C448.5,1676.6 449.1,1668.2 449.8,1658.2C450.5,1648.2 451.1,1636.3 451.9,1629.8C452.6,1623.2 453.5,1618.9 454.3,1618.8C455.1,1618.8 455.9,1623.6 456.8,1629.2C457.7,1634.8 458.6,1643.3 459.6,1652.3C460.7,1661.4 461.9,1674.1 463.1,1683.5C464.3,1692.9 465.4,1700.3 466.6,1708.6C467.8,1717.0 468.9,1725.9 470.1,1733.8C471.3,1741.8 472.6,1751.2 473.6,1756.3C474.7,1761.4 475.5,1763.1 476.4,1764.4C477.3,1765.7 478.2,1764.6 479.2,1764.4C480.2,1764.2 481.3,1763.8 482.3,1763.4C483.3,1763.1 484.2,1762.8 485.1,1762.3C486.0,1761.9 486.7,1761.9 487.6,1760.7C488.5,1759.5 489.5,1759.4 490.4,1755.2C491.3,1751.0 492.1,1743.8 492.9,1735.4C493.7,1727.1 494.4,1716.0 495.3,1705.1C496.2,1694.3 497.2,1681.1 498.1,1670.3C499.0,1659.4 500.1,1647.2 500.9,1640.0C501.7,1632.8 502.4,1629.5 503.0,1627.1C503.6,1624.7 503.8,1624.7 504.4,1625.5C505.0,1626.4 505.7,1626.4 506.5,1632.3C507.3,1638.2 508.4,1651.4 509.3,1660.9C510.2,1670.5 511.2,1681.0 512.1,1689.5C513.0,1698.1 514.2,1707.5 514.9,1712.1C515.6,1716.8 515.6,1716.4 516.3,1717.4C517.0,1718.4 518.3,1717.5 519.1,1718.2C519.9,1718.8 520.5,1719.0 521.2,1721.4C521.9,1723.8 522.5,1727.4 523.3,1732.3C524.1,1737.2 525.2,1743.9 526.1,1750.8C527.0,1757.8 528.0,1768.8 528.9,1774.0C529.8,1779.1 530.5,1781.2 531.4,1781.9C532.3,1782.7 533.2,1779.7 534.2,1778.5C535.2,1777.4 536.6,1775.3 537.7,1775.0C538.8,1774.7 539.6,1775.5 540.9,1776.8C542.2,1778.1 543.8,1780.2 545.4,1782.9C547.0,1785.7 549.0,1789.2 550.7,1793.5C552.5,1797.8 554.5,1804.6 555.9,1808.6C557.3,1812.6 558.5,1815.8 559.4,1817.6C560.3,1819.4 560.5,1820.2 561.2,1819.4C561.9,1818.7 562.7,1816.6 563.6,1813.1C564.5,1809.5 565.5,1801.9 566.4,1798.0C567.3,1794.2 568.3,1790.7 569.2,1790.2C570.1,1789.7 570.8,1792.0 571.7,1795.0C572.6,1798.1 573.6,1805.4 574.5,1808.6C575.4,1811.7 575.9,1812.9 576.9,1813.9C577.9,1814.9 579.2,1814.3 580.4,1814.6C581.6,1814.8 582.8,1813.9 584.0,1815.4C585.2,1816.9 586.2,1821.0 587.5,1823.6C588.8,1826.3 590.2,1829.7 592.0,1831.2C593.8,1832.7 596.1,1833.0 598.0,1832.7C599.9,1832.4 601.8,1832.2 603.2,1829.6C604.7,1827.1 605.5,1823.4 606.7,1817.6C607.9,1811.8 609.2,1803.8 610.2,1795.0C611.2,1786.2 612.1,1773.4 613.0,1764.9C613.9,1756.3 614.6,1748.2 615.5,1743.8C616.4,1739.4 617.3,1738.0 618.3,1738.5C619.3,1739.0 620.3,1743.1 621.4,1746.8C622.5,1750.4 623.7,1757.3 624.9,1760.4C626.1,1763.4 627.1,1765.1 628.5,1765.1C629.9,1765.1 631.9,1762.2 633.3,1760.4C634.7,1758.6 635.8,1757.4 636.8,1754.3C637.8,1751.3 638.4,1746.8 639.3,1742.3C640.2,1737.7 641.2,1731.2 642.1,1727.2C643.0,1723.2 643.7,1720.3 644.5,1718.2C645.3,1716.0 646.1,1713.9 647.0,1714.4C647.9,1714.9 648.9,1718.1 649.8,1721.2C650.7,1724.3 651.8,1730.8 652.6,1733.2C653.4,1735.6 654.0,1735.7 654.7,1735.5C655.4,1735.3 656.0,1735.9 656.8,1732.1C657.5,1728.4 658.5,1719.7 659.2,1713.1C660.0,1706.5 660.5,1697.6 661.3,1692.5C662.1,1687.4 663.0,1682.5 663.8,1682.5C664.6,1682.5 665.4,1687.9 666.3,1692.5C667.2,1697.1 668.2,1704.6 669.1,1709.9C670.0,1715.3 670.9,1721.7 671.5,1724.5C672.1,1727.2 672.3,1726.9 672.9,1726.5C673.5,1726.0 674.2,1725.9 675.0,1721.7C675.8,1717.5 676.7,1708.0 677.5,1701.1C678.3,1694.3 678.9,1685.2 679.6,1680.5C680.4,1675.9 681.2,1672.9 682.0,1673.4C682.8,1673.8 683.6,1678.0 684.5,1683.3C685.4,1688.5 686.4,1698.4 687.3,1705.1C688.2,1711.7 689.2,1718.6 690.1,1723.4C691.0,1728.1 691.5,1731.4 692.5,1733.6C693.5,1735.8 694.8,1735.5 696.0,1736.6C697.2,1737.7 698.8,1740.3 699.9,1740.2C701.0,1740.1 701.8,1739.7 702.7,1736.2C703.6,1732.6 704.3,1723.9 705.1,1719.0C705.9,1714.1 706.7,1709.2 707.6,1706.7C708.5,1704.1 709.4,1703.4 710.4,1703.7C711.4,1704.1 712.7,1705.3 713.9,1708.6C715.1,1711.9 716.3,1719.0 717.4,1723.5C718.5,1728.0 719.3,1733.2 720.2,1735.7C721.1,1738.3 721.9,1739.4 722.7,1739.0C723.5,1738.5 724.2,1737.7 725.1,1733.2C726.0,1728.8 727.0,1719.4 727.9,1712.1C728.8,1704.8 729.6,1696.1 730.4,1689.5C731.2,1683.0 731.8,1677.0 732.5,1672.9C733.2,1668.9 733.9,1667.0 734.9,1665.4C735.9,1663.9 737.1,1664.0 738.4,1663.6C739.7,1663.3 741.4,1663.0 742.6,1663.3C743.8,1663.6 744.6,1663.6 745.4,1665.4C746.2,1667.3 746.7,1669.7 747.5,1674.5C748.3,1679.3 749.4,1686.5 750.3,1694.1C751.2,1701.6 752.2,1711.7 753.1,1719.7C754.0,1727.7 755.0,1734.7 755.9,1742.3C756.8,1749.8 757.6,1758.9 758.4,1764.9C759.2,1770.9 759.9,1774.4 760.9,1778.4C761.9,1782.4 763.1,1786.4 764.4,1789.0C765.7,1791.5 767.4,1791.3 768.6,1793.5C769.8,1795.8 770.5,1799.3 771.4,1802.5C772.3,1805.8 773.2,1810.4 774.2,1813.1C775.2,1815.8 776.7,1818.8 777.7,1818.8C778.8,1818.8 779.6,1815.5 780.5,1813.1C781.4,1810.6 782.2,1805.9 783.3,1804.1C784.3,1802.2 785.6,1802.5 786.8,1802.2C788.0,1802.0 789.2,1803.5 790.3,1802.5C791.3,1801.6 792.1,1800.0 793.1,1796.5C794.1,1793.0 795.2,1785.1 796.2,1781.4C797.2,1777.8 798.4,1774.9 799.4,1774.7C800.4,1774.4 801.2,1775.8 802.2,1779.9C803.2,1784.1 804.5,1794.3 805.7,1799.5C806.9,1804.8 808.3,1809.2 809.2,1811.6C810.1,1814.0 810.5,1814.4 811.3,1813.9C812.1,1813.4 813.1,1812.5 814.1,1808.6C815.1,1804.7 816.2,1797.0 817.3,1790.5C818.3,1783.9 819.4,1776.2 820.4,1769.4C821.4,1762.6 822.3,1754.4 823.2,1749.8C824.1,1745.1 825.0,1743.8 826.0,1741.5C827.0,1739.3 828.3,1738.9 829.5,1736.2C830.7,1733.6 832.0,1731.0 833.0,1725.7C834.0,1720.4 834.9,1712.4 835.8,1704.6C836.7,1696.8 837.7,1687.8 838.6,1679.0C839.5,1670.2 840.5,1659.7 841.4,1651.9C842.3,1644.1 843.3,1636.7 844.2,1632.3C845.1,1627.9 846.0,1624.8 847.0,1625.5C848.0,1626.3 848.9,1630.9 849.9,1636.8C850.9,1642.7 851.8,1653.4 852.7,1660.9C853.6,1668.4 854.8,1677.7 855.5,1682.0C856.2,1686.3 856.4,1687.8 857.1,1686.5C857.8,1685.3 858.8,1682.4 859.7,1674.5C860.6,1666.7 861.4,1650.5 862.3,1639.3C863.2,1628.1 864.0,1616.7 864.9,1607.3C865.8,1598.0 866.7,1589.5 867.5,1583.3C868.3,1577.2 869.0,1573.1 869.8,1570.5C870.5,1568.0 871.3,1567.4 872.0,1568.2C872.7,1569.0 873.5,1570.7 874.2,1575.3C875.0,1580.0 875.7,1588.2 876.5,1596.1C877.3,1604.1 878.2,1613.9 879.1,1623.3C880.0,1632.8 880.9,1644.8 881.7,1652.8C882.5,1660.8 883.2,1667.2 883.9,1671.3C884.6,1675.3 885.2,1676.1 886.1,1677.2C887.0,1678.4 888.1,1677.7 889.1,1678.0C890.1,1678.2 891.2,1677.3 892.1,1679.0C893.0,1680.8 893.5,1683.1 894.3,1688.5C895.1,1693.9 896.0,1704.1 896.9,1711.3C897.8,1718.6 898.6,1726.0 899.5,1732.1C900.4,1738.2 901.4,1744.3 902.5,1748.1C903.6,1751.9 905.1,1755.1 906.2,1754.8C907.3,1754.6 908.3,1751.1 909.2,1746.5C910.1,1741.9 910.9,1734.5 911.8,1727.3C912.7,1720.1 913.5,1709.7 914.4,1703.3C915.3,1696.9 916.2,1691.8 917.0,1688.9C917.8,1686.0 918.5,1685.2 919.2,1685.7C920.0,1686.3 920.7,1687.1 921.5,1692.1C922.3,1697.2 923.2,1708.4 924.1,1716.1C925.0,1723.9 926.0,1732.9 926.7,1738.5C927.4,1744.1 927.7,1747.0 928.5,1749.7C929.3,1752.4 930.6,1752.6 931.5,1754.5C932.4,1756.4 933.0,1757.5 933.8,1760.9C934.5,1764.4 935.3,1771.0 936.0,1775.3C936.7,1779.6 937.5,1783.9 938.2,1786.5C938.9,1789.1 939.5,1790.5 940.4,1791.0C941.3,1791.5 942.5,1789.8 943.4,1789.7C944.3,1789.6 945.1,1789.2 946.0,1790.5C946.9,1791.8 947.7,1795.7 948.6,1797.7C949.5,1799.6 950.7,1802.2 951.6,1802.2C952.5,1802.2 953.3,1800.0 954.2,1797.7C955.1,1795.3 955.9,1790.2 956.8,1788.1C957.7,1786.0 958.5,1784.4 959.4,1784.9C960.3,1785.4 961.1,1788.6 962.0,1791.3C962.9,1793.9 963.7,1798.0 964.6,1800.9C965.5,1803.9 966.3,1807.3 967.2,1808.9C968.1,1810.6 969.1,1810.4 970.2,1810.8C971.3,1811.2 972.8,1810.3 973.9,1811.3C975.0,1812.3 975.9,1814.1 976.9,1816.9C977.9,1819.7 978.8,1824.9 979.9,1828.1C981.0,1831.3 982.4,1833.8 983.6,1836.1C984.8,1838.4 986.1,1840.3 987.3,1841.7C988.5,1843.0 989.9,1843.5 991.0,1844.1C992.1,1844.6 993.0,1845.2 994.0,1844.9C995.0,1844.6 996.0,1844.2 997.0,1842.5C998.0,1840.8 999.0,1837.7 1000.0,1834.5C1001.0,1831.3 1001.9,1825.8 1002.9,1823.3C1003.9,1820.7 1005.0,1819.0 1005.9,1819.3C1006.8,1819.5 1007.6,1822.8 1008.5,1824.9C1009.4,1827.0 1010.2,1830.5 1011.1,1832.1C1012.0,1833.6 1012.8,1834.2 1013.7,1834.2C1014.6,1834.2 1015.7,1832.6 1016.7,1832.1C1017.7,1831.6 1018.7,1831.1 1019.7,1831.3C1020.8,1831.5 1021.8,1832.3 1023.0,1833.2C1024.2,1834.1 1025.5,1835.8 1026.8,1836.9C1028.0,1838.1 1029.3,1839.1 1030.5,1840.1C1031.7,1841.1 1033.0,1842.3 1034.2,1842.8C1035.4,1843.2 1036.8,1842.8 1037.9,1842.8C1039.0,1842.7 1039.9,1842.3 1040.9,1842.5C1041.9,1842.7 1043.0,1843.5 1043.9,1843.8C1044.8,1844.1 1045.6,1844.9 1046.5,1844.4C1047.4,1843.9 1048.2,1842.6 1049.1,1840.9C1050.0,1839.3 1051.0,1836.0 1052.1,1834.5C1053.2,1833.0 1054.6,1832.9 1055.8,1832.1C1057.0,1831.3 1058.5,1830.7 1059.5,1829.7C1060.5,1828.6 1061.3,1826.5 1062.1,1825.7C1062.9,1824.9 1063.5,1824.5 1064.3,1824.9C1065.1,1825.3 1066.0,1826.6 1066.9,1828.1C1067.8,1829.6 1068.7,1832.4 1069.9,1833.7C1071.1,1835.0 1072.7,1836.4 1074.0,1836.0C1075.3,1835.6 1076.5,1834.3 1077.5,1831.2C1078.5,1828.1 1079.4,1822.4 1080.3,1817.6C1081.2,1812.8 1082.1,1807.6 1083.1,1802.5C1084.1,1797.5 1085.3,1792.5 1086.3,1787.5C1087.3,1782.4 1088.2,1778.7 1089.1,1772.4C1090.0,1766.1 1090.8,1755.4 1091.5,1749.8C1092.2,1744.1 1092.9,1740.7 1093.6,1738.5C1094.3,1736.3 1095.0,1735.9 1095.7,1736.5C1096.4,1737.2 1097.0,1738.8 1097.8,1742.3C1098.6,1745.7 1099.4,1752.3 1100.3,1757.4C1101.2,1762.4 1102.1,1767.4 1103.1,1772.4C1104.1,1777.4 1105.2,1783.7 1106.3,1787.5C1107.4,1791.2 1108.8,1792.5 1109.8,1795.0C1110.8,1797.5 1111.7,1800.8 1112.6,1802.5C1113.5,1804.3 1114.5,1806.1 1115.4,1805.6C1116.3,1805.1 1117.0,1805.1 1117.8,1799.5C1118.5,1794.0 1119.2,1782.0 1119.9,1772.4C1120.6,1762.9 1121.3,1750.0 1122.0,1742.3C1122.7,1734.5 1123.1,1729.3 1123.8,1725.7C1124.5,1722.1 1125.2,1720.6 1125.9,1720.9C1126.6,1721.1 1127.3,1722.4 1128.0,1727.2C1128.7,1732.0 1129.4,1742.3 1130.1,1749.8C1130.8,1757.3 1131.5,1766.8 1132.2,1772.4C1132.9,1778.1 1133.6,1781.4 1134.3,1783.7C1135.0,1786.0 1135.6,1786.6 1136.4,1786.3C1137.2,1785.9 1138.2,1783.7 1139.2,1781.4C1140.2,1779.1 1141.2,1775.9 1142.3,1772.4C1143.3,1768.9 1144.5,1763.9 1145.5,1760.4C1146.5,1756.8 1147.4,1753.4 1148.3,1751.3C1149.2,1749.2 1150.0,1748.0 1151.1,1748.0C1152.1,1748.0 1153.5,1749.2 1154.6,1751.3C1155.6,1753.4 1156.5,1756.8 1157.4,1760.4C1158.3,1763.9 1159.2,1768.4 1160.2,1772.4C1161.2,1776.4 1162.4,1780.9 1163.4,1784.4C1164.5,1788.0 1165.4,1790.8 1166.5,1793.5C1167.6,1796.3 1168.8,1798.5 1170.0,1801.0C1171.2,1803.6 1172.5,1805.8 1173.5,1808.6C1174.5,1811.3 1175.4,1814.8 1176.3,1817.6C1177.2,1820.4 1178.2,1823.3 1179.1,1825.1C1180.0,1826.9 1180.9,1827.8 1181.9,1828.4C1183.0,1829.1 1184.1,1829.1 1185.4,1828.9C1186.7,1828.7 1188.2,1827.7 1189.6,1827.4C1191.0,1827.2 1192.4,1827.2 1193.8,1827.4C1195.2,1827.6 1196.6,1827.6 1197.7,1828.4C1198.8,1829.3 1199.2,1831.0 1200.2,1832.7C1201.2,1834.4 1202.4,1837.1 1203.7,1838.7C1205.0,1840.3 1206.5,1841.3 1207.9,1842.5C1209.4,1843.6 1211.0,1844.6 1212.4,1845.5C1213.9,1846.3 1215.2,1846.9 1216.6,1847.4C1217.9,1847.9 1219.3,1848.7 1220.5,1848.5C1221.7,1848.3 1222.7,1847.4 1224.0,1846.2C1225.3,1845.1 1226.8,1843.5 1228.2,1841.7C1229.6,1840.0 1231.2,1838.2 1232.4,1835.7C1233.6,1833.2 1234.3,1830.6 1235.2,1826.6C1236.1,1822.6 1237.1,1814.8 1238.0,1811.6C1238.9,1808.3 1239.9,1807.4 1240.8,1807.1C1241.7,1806.7 1242.7,1808.4 1243.6,1809.3C1244.5,1810.2 1245.5,1811.7 1246.4,1812.4C1247.3,1813.0 1248.3,1814.0 1249.2,1813.4C1250.1,1812.8 1251.1,1812.4 1252.0,1808.6C1252.9,1804.7 1253.9,1795.7 1254.8,1790.5C1255.7,1785.2 1256.7,1779.8 1257.6,1776.9C1258.5,1774.0 1259.5,1773.4 1260.4,1773.2C1261.3,1772.9 1262.3,1774.2 1263.2,1775.4C1264.1,1776.7 1265.1,1779.5 1266.0,1780.7C1266.9,1781.9 1267.9,1783.0 1268.8,1782.6C1269.7,1782.3 1270.7,1780.0 1271.6,1778.4C1272.5,1776.8 1273.5,1774.1 1274.4,1773.2C1275.3,1772.3 1276.3,1772.5 1277.2,1772.9C1278.1,1773.3 1279.1,1774.0 1280.0,1775.4C1280.9,1776.8 1281.9,1779.7 1282.8,1781.4C1283.7,1783.2 1284.7,1784.9 1285.6,1786.0C1286.5,1787.0 1287.3,1788.5 1288.1,1787.5C1288.9,1786.5 1289.8,1784.9 1290.5,1779.9C1291.2,1774.9 1291.9,1764.9 1292.6,1757.4C1293.3,1749.8 1293.9,1742.3 1294.7,1734.7C1295.5,1727.2 1296.6,1719.7 1297.5,1712.1C1298.4,1704.6 1299.4,1696.6 1300.3,1689.5C1301.2,1682.5 1302.2,1676.0 1303.1,1669.9C1304.0,1663.9 1305.1,1657.3 1305.9,1653.4C1306.7,1649.5 1307.3,1647.9 1308.0,1646.6C1308.7,1645.3 1309.1,1644.7 1309.8,1645.6C1310.5,1646.4 1311.2,1647.8 1311.9,1651.9C1312.6,1655.9 1313.3,1662.9 1314.0,1669.9C1314.7,1677.0 1315.4,1685.8 1316.1,1694.1C1316.8,1702.4 1317.5,1711.2 1318.2,1719.7C1318.9,1728.2 1319.6,1737.7 1320.3,1745.3C1321.0,1752.8 1321.7,1759.9 1322.4,1764.9C1323.1,1769.9 1323.8,1773.2 1324.5,1775.4C1325.2,1777.7 1325.6,1778.9 1326.3,1778.4C1327.0,1777.9 1327.7,1775.9 1328.4,1772.4C1329.2,1768.9 1330.0,1763.6 1330.8,1757.4C1331.6,1751.1 1332.5,1740.4 1333.3,1734.7C1334.1,1729.1 1334.7,1725.7 1335.4,1723.4C1336.1,1721.2 1336.8,1720.8 1337.5,1721.2C1338.2,1721.6 1338.9,1723.5 1339.6,1725.7C1340.3,1728.0 1341.0,1732.6 1341.7,1734.7C1342.5,1736.9 1343.3,1739.0 1344.1,1738.5C1344.9,1738.0 1345.8,1734.9 1346.6,1731.7C1347.4,1728.6 1348.2,1722.4 1349.0,1719.7C1349.8,1716.9 1350.4,1716.1 1351.1,1715.2C1351.8,1714.3 1352.4,1714.1 1353.2,1714.4C1354.0,1714.6 1354.9,1715.9 1355.7,1716.7C1356.5,1717.4 1357.0,1718.4 1357.8,1718.9C1358.5,1719.4 1359.4,1720.3 1360.2,1719.7C1361.0,1719.1 1361.9,1716.5 1362.7,1715.2C1363.5,1713.9 1364.4,1712.4 1365.1,1711.8C1365.8,1711.2 1366.2,1711.0 1366.9,1711.4C1367.6,1711.8 1368.5,1713.6 1369.3,1714.4C1370.1,1715.2 1370.9,1715.5 1371.8,1715.9C1372.7,1716.3 1373.7,1716.4 1374.6,1716.7C1375.5,1716.9 1376.6,1716.7 1377.4,1717.4C1378.2,1718.2 1378.8,1718.3 1379.5,1721.2C1380.2,1724.1 1380.9,1729.5 1381.6,1734.7C1382.3,1740.0 1383.0,1747.1 1383.7,1752.8C1384.4,1758.6 1385.1,1764.9 1385.8,1769.4C1386.5,1773.9 1387.1,1777.7 1387.9,1779.9C1388.7,1782.2 1389.6,1782.3 1390.4,1782.9C1391.2,1783.6 1391.8,1783.8 1392.8,1783.7C1393.8,1783.7 1395.1,1783.1 1396.3,1782.6C1397.5,1782.2 1398.8,1782.1 1399.8,1781.1C1400.8,1780.2 1401.7,1778.9 1402.6,1776.9C1403.5,1775.0 1404.3,1772.7 1405.1,1769.4C1405.9,1766.1 1406.8,1760.9 1407.5,1757.4C1408.2,1753.8 1408.8,1750.4 1409.6,1748.3C1410.4,1746.1 1411.3,1744.3 1412.1,1744.5C1412.9,1744.8 1413.6,1747.2 1414.5,1749.8C1415.4,1752.4 1416.5,1756.1 1417.4,1760.4C1418.4,1764.6 1419.3,1770.9 1420.2,1775.4C1421.1,1779.9 1422.1,1783.4 1423.0,1787.5C1423.9,1791.5 1424.9,1795.5 1425.8,1799.5C1426.7,1803.6 1427.7,1808.6 1428.6,1811.6C1429.5,1814.6 1430.5,1816.3 1431.4,1817.6C1432.3,1818.9 1433.3,1819.1 1434.2,1819.1C1435.1,1819.1 1436.1,1818.9 1437.0,1817.6C1437.9,1816.3 1438.9,1813.8 1439.8,1811.6C1440.7,1809.3 1441.7,1805.9 1442.6,1804.1C1443.5,1802.2 1444.5,1800.0 1445.4,1800.3C1446.3,1800.5 1447.3,1802.7 1448.2,1805.6C1449.1,1808.4 1450.1,1813.6 1451.0,1817.6C1451.9,1821.6 1452.8,1826.4 1453.8,1829.6C1454.8,1832.9 1455.9,1835.2 1456.9,1837.2C1458.0,1839.2 1459.0,1840.7 1460.1,1841.7C1461.2,1842.7 1462.4,1843.5 1463.6,1843.2C1464.8,1843.0 1466.0,1842.0 1467.1,1840.2C1468.1,1838.5 1469.0,1836.0 1469.9,1832.7C1470.8,1829.4 1471.8,1824.1 1472.7,1820.6C1473.6,1817.1 1474.6,1813.5 1475.5,1811.6C1476.4,1809.7 1477.4,1808.8 1478.3,1809.3C1479.2,1809.8 1480.2,1812.0 1481.1,1814.6C1482.0,1817.2 1483.0,1822.1 1483.9,1825.1C1484.8,1828.1 1485.7,1830.9 1486.7,1832.7C1487.8,1834.5 1489.0,1835.7 1490.2,1835.7C1491.4,1835.7 1492.5,1834.5 1493.7,1832.7C1494.9,1830.9 1496.0,1828.6 1497.2,1825.1C1498.4,1821.6 1499.7,1817.9 1500.7,1811.6C1501.8,1805.3 1502.6,1795.2 1503.5,1787.5C1504.4,1779.7 1505.2,1771.9 1506.0,1764.9C1506.8,1757.9 1507.6,1749.9 1508.5,1745.3C1509.4,1740.6 1510.5,1737.2 1511.3,1737.0C1512.1,1736.8 1512.7,1741.0 1513.3,1743.9C1513.9,1746.8 1514.4,1750.9 1515.0,1754.3C1515.6,1757.8 1516.3,1762.1 1517.0,1764.8C1517.7,1767.4 1518.2,1769.0 1518.9,1770.0C1519.6,1771.0 1520.2,1771.6 1520.9,1771.0C1521.6,1770.5 1522.2,1768.9 1522.8,1766.9C1523.4,1764.8 1524.0,1760.3 1524.7,1758.5C1525.4,1756.7 1526.1,1755.5 1526.7,1755.9C1527.3,1756.2 1527.9,1758.4 1528.6,1760.6C1529.2,1762.8 1529.9,1766.7 1530.6,1769.0C1531.2,1771.2 1531.9,1773.1 1532.5,1774.2C1533.1,1775.2 1533.6,1775.8 1534.2,1775.4C1534.8,1775.1 1535.3,1774.9 1535.9,1772.1C1536.5,1769.2 1537.1,1763.2 1537.6,1758.5C1538.1,1753.8 1538.4,1749.5 1538.8,1743.9C1539.2,1738.3 1539.6,1730.9 1540.0,1725.1C1540.4,1719.4 1540.8,1714.7 1541.2,1709.5C1541.6,1704.3 1542.1,1699.1 1542.5,1693.8C1542.9,1688.6 1543.3,1682.4 1543.7,1678.2C1544.1,1674.0 1544.3,1671.1 1544.9,1668.8C1545.5,1666.6 1546.4,1664.7 1547.1,1664.6C1547.8,1664.6 1548.5,1667.3 1549.2,1668.6C1549.9,1669.9 1550.5,1671.7 1551.2,1672.4C1551.9,1673.2 1552.9,1673.6 1553.6,1673.0C1554.3,1672.3 1554.8,1672.1 1555.6,1668.6C1556.4,1665.0 1557.3,1657.4 1558.2,1651.9C1559.1,1646.3 1559.9,1641.7 1560.8,1635.2C1561.7,1628.7 1562.5,1620.3 1563.4,1612.9C1564.3,1605.5 1565.1,1598.1 1566.0,1590.7C1566.9,1583.3 1567.7,1575.8 1568.6,1568.4C1569.5,1561.0 1570.3,1553.2 1571.2,1546.2C1572.1,1539.1 1572.9,1532.1 1573.7,1526.1C1574.5,1520.2 1575.4,1514.8 1576.3,1510.6C1577.2,1506.3 1578.1,1502.6 1578.9,1500.6C1579.7,1498.5 1580.3,1498.1 1581.0,1498.3C1581.7,1498.5 1582.4,1498.3 1583.1,1501.7C1583.8,1505.0 1584.6,1511.9 1585.4,1518.4C1586.2,1524.8 1587.1,1532.6 1588.0,1540.6C1588.9,1548.6 1589.8,1558.2 1590.6,1566.2C1591.4,1574.2 1592.2,1581.6 1593.1,1588.5C1594.0,1595.3 1595.1,1602.4 1596.2,1607.4C1597.3,1612.4 1598.6,1614.8 1599.6,1618.5C1600.6,1622.2 1601.3,1625.0 1602.2,1629.6C1603.1,1634.2 1603.9,1641.1 1604.8,1646.3C1605.7,1651.5 1606.5,1656.0 1607.4,1660.8C1608.3,1665.6 1609.3,1671.9 1610.0,1675.2C1610.7,1678.6 1611.2,1679.6 1611.8,1680.8C1612.4,1681.9 1613.1,1682.3 1613.8,1682.1C1614.5,1681.9 1615.2,1681.0 1615.9,1679.7C1616.6,1678.3 1617.3,1675.8 1618.0,1674.1C1618.7,1672.4 1619.4,1670.6 1620.1,1669.7C1620.8,1668.7 1621.3,1668.1 1622.1,1668.3C1622.9,1668.6 1624.0,1670.1 1624.9,1671.4C1625.8,1672.7 1626.6,1674.1 1627.4,1676.1C1628.2,1678.1 1629.0,1680.4 1629.8,1683.4C1630.6,1686.4 1631.5,1690.0 1632.2,1693.8C1632.9,1697.7 1633.4,1702.2 1633.9,1706.4C1634.4,1710.5 1634.9,1714.7 1635.4,1718.9C1635.9,1723.0 1636.3,1727.2 1636.8,1731.4C1637.3,1735.6 1637.8,1740.1 1638.3,1743.9C1638.8,1747.7 1639.2,1751.2 1639.7,1754.3C1640.2,1757.5 1640.7,1760.7 1641.2,1762.7C1641.7,1764.7 1642.0,1765.9 1642.6,1766.3C1643.2,1766.8 1643.9,1766.0 1644.6,1765.3C1645.2,1764.6 1645.8,1762.8 1646.5,1762.2C1647.2,1761.6 1647.9,1761.0 1648.5,1761.7C1649.1,1762.3 1649.4,1763.9 1649.9,1765.8C1650.4,1767.7 1651.0,1770.4 1651.6,1773.1C1652.2,1775.9 1652.7,1779.6 1653.3,1782.5C1653.9,1785.5 1654.7,1788.8 1655.3,1790.9C1655.9,1792.9 1656.2,1794.2 1656.7,1795.0C1657.2,1795.9 1657.6,1796.4 1658.2,1795.8C1658.8,1795.3 1659.4,1793.8 1660.1,1791.9C1660.8,1790.0 1661.4,1787.0 1662.1,1784.6C1662.8,1782.1 1663.3,1779.0 1664.0,1777.3C1664.7,1775.6 1665.5,1775.4 1666.2,1774.2C1666.9,1773.0 1667.7,1771.6 1668.4,1770.0C1669.1,1768.4 1669.7,1767.0 1670.3,1764.8C1670.9,1762.5 1671.5,1759.2 1672.2,1756.4C1672.9,1753.6 1673.6,1750.0 1674.2,1748.1C1674.8,1746.2 1675.4,1744.4 1676.1,1745.0C1676.8,1745.5 1677.4,1748.3 1678.1,1751.2C1678.8,1754.2 1679.3,1758.3 1680.0,1762.7C1680.7,1767.0 1681.3,1772.6 1682.0,1777.3C1682.7,1782.0 1683.3,1786.7 1683.9,1790.9C1684.5,1795.0 1685.1,1798.7 1685.8,1802.3C1686.5,1806.0 1687.3,1809.8 1688.0,1812.7C1688.7,1815.7 1689.5,1818.1 1690.2,1820.0C1690.9,1822.0 1691.6,1823.2 1692.4,1824.2C1693.2,1825.3 1693.9,1825.9 1694.8,1826.3C1695.7,1826.8 1696.6,1826.7 1697.7,1826.8C1698.8,1827.0 1700.3,1827.1 1701.4,1827.4C1702.5,1827.6 1703.3,1827.9 1704.3,1828.4C1705.3,1828.9 1706.3,1829.8 1707.4,1830.3C1708.5,1830.8 1709.9,1831.2 1711.1,1831.3C1712.3,1831.4 1713.7,1831.4 1714.7,1830.7C1715.8,1830.1 1716.6,1829.0 1717.4,1827.4C1718.2,1825.8 1719.0,1823.9 1719.8,1821.1C1720.6,1818.3 1721.4,1814.5 1722.2,1810.7C1723.0,1806.8 1723.9,1802.9 1724.6,1798.2C1725.3,1793.5 1725.9,1787.7 1726.6,1782.5C1727.2,1777.3 1727.8,1771.7 1728.5,1766.9C1729.2,1762.0 1729.9,1757.7 1730.5,1753.3C1731.1,1749.0 1731.7,1745.2 1732.2,1740.8C1732.7,1736.5 1733.1,1731.2 1733.6,1727.2C1734.1,1723.2 1734.8,1719.2 1735.3,1716.8C1735.8,1714.5 1736.0,1714.2 1736.8,1713.2C1737.6,1712.1 1739.0,1709.9 1740.0,1710.6C1741.0,1711.2 1741.9,1713.6 1742.8,1716.9C1743.7,1720.2 1744.5,1724.5 1745.2,1730.5C1746.0,1736.5 1746.6,1746.3 1747.3,1753.1C1748.0,1759.8 1748.7,1766.6 1749.4,1771.2C1750.1,1775.7 1750.8,1778.2 1751.5,1780.2C1752.2,1782.1 1752.8,1783.4 1753.6,1782.9C1754.4,1782.4 1755.3,1780.1 1756.1,1777.2C1756.9,1774.2 1757.7,1769.7 1758.5,1765.1C1759.3,1760.6 1760.2,1754.6 1761.0,1750.0C1761.8,1745.5 1762.6,1740.6 1763.4,1738.0C1764.2,1735.4 1764.9,1734.9 1765.6,1734.2C1766.2,1733.5 1766.7,1733.2 1767.3,1733.8C1767.9,1734.4 1768.6,1736.0 1769.4,1738.0C1770.2,1740.0 1771.0,1743.6 1771.9,1745.5C1772.8,1747.4 1773.8,1749.6 1774.7,1749.3C1775.6,1749.1 1776.7,1747.2 1777.5,1744.0C1778.3,1740.9 1778.8,1735.3 1779.6,1730.5C1780.3,1725.7 1781.1,1719.9 1782.0,1715.4C1782.9,1710.9 1783.9,1706.6 1784.8,1703.3C1785.7,1700.1 1786.6,1698.1 1787.6,1695.8C1788.6,1693.6 1789.8,1692.3 1790.8,1689.8C1791.8,1687.3 1792.7,1683.3 1793.6,1680.8C1794.5,1678.3 1795.4,1676.2 1796.4,1674.7C1797.4,1673.2 1798.4,1672.3 1799.5,1671.7C1800.6,1671.1 1801.9,1671.7 1803.0,1671.0C1804.1,1670.2 1805.3,1669.3 1806.2,1667.2C1807.1,1665.0 1807.8,1662.7 1808.6,1658.2C1809.4,1653.6 1810.3,1646.9 1811.1,1640.1C1811.9,1633.3 1812.5,1625.0 1813.2,1617.5C1813.9,1609.9 1814.6,1602.4 1815.3,1594.9C1816.0,1587.3 1816.7,1578.6 1817.4,1572.3C1818.1,1566.0 1818.8,1560.5 1819.5,1557.2C1820.2,1553.9 1820.8,1552.4 1821.6,1552.7C1822.4,1552.9 1823.3,1554.7 1824.1,1558.7C1824.9,1562.7 1825.7,1569.5 1826.5,1576.8C1827.3,1584.1 1828.2,1593.1 1829.0,1602.4C1829.8,1611.7 1830.7,1623.0 1831.4,1632.5C1832.2,1642.1 1832.8,1652.6 1833.5,1659.7C1834.2,1666.7 1834.8,1670.2 1835.6,1674.7C1836.4,1679.2 1837.2,1682.5 1838.1,1686.8C1839.0,1691.1 1840.0,1695.6 1840.9,1700.3C1841.8,1705.1 1842.8,1709.6 1843.7,1715.4C1844.6,1721.2 1845.3,1728.7 1846.1,1735.0C1846.8,1741.3 1847.5,1747.5 1848.2,1753.1C1848.9,1758.6 1849.6,1763.6 1850.3,1768.1C1851.0,1772.7 1851.7,1777.4 1852.4,1780.2C1853.1,1783.0 1853.7,1784.0 1854.5,1785.0C1855.3,1786.0 1856.2,1786.5 1857.0,1786.2C1857.8,1785.9 1858.7,1785.0 1859.5,1783.2C1860.3,1781.4 1861.1,1777.9 1861.9,1775.7C1862.7,1773.4 1863.6,1770.9 1864.4,1769.7C1865.2,1768.4 1865.8,1767.6 1866.5,1768.1C1867.2,1768.7 1868.1,1770.2 1868.9,1772.7C1869.7,1775.2 1870.5,1779.7 1871.4,1783.2C1872.3,1786.7 1873.3,1790.7 1874.2,1793.7C1875.1,1796.8 1876.0,1799.0 1877.0,1801.3C1878.0,1803.6 1879.3,1806.1 1880.5,1807.3C1881.7,1808.6 1882.8,1809.1 1884.0,1808.8C1885.2,1808.6 1886.3,1807.8 1887.5,1805.8C1888.7,1803.8 1889.8,1800.6 1891.0,1796.8C1892.2,1793.0 1893.3,1788.0 1894.5,1783.2C1895.7,1778.4 1896.9,1773.2 1898.0,1768.1C1899.1,1763.1 1900.2,1759.3 1901.1,1753.1C1902.0,1746.8 1902.8,1738.0 1903.6,1730.5C1904.4,1722.9 1904.9,1714.9 1905.7,1707.9C1906.5,1700.8 1907.4,1693.3 1908.2,1688.3C1909.0,1683.3 1909.7,1680.2 1910.6,1677.7C1911.5,1675.2 1912.5,1674.6 1913.4,1673.2C1914.3,1671.8 1915.3,1671.9 1916.2,1669.2C1917.1,1666.4 1917.9,1661.1 1918.7,1656.7C1919.5,1652.2 1920.0,1645.9 1920.8,1642.5C1921.5,1639.0 1922.3,1635.8 1923.2,1635.9C1924.1,1635.9 1925.1,1638.6 1926.0,1642.9C1926.9,1647.1 1927.9,1655.1 1928.8,1661.6C1929.7,1668.1 1930.7,1675.6 1931.6,1681.8C1932.5,1688.1 1933.5,1693.9 1934.4,1699.0C1935.3,1704.1 1936.3,1709.6 1937.2,1712.4C1938.1,1715.1 1938.8,1715.6 1939.7,1715.4C1940.6,1715.1 1941.6,1713.6 1942.5,1710.9C1943.4,1708.1 1944.3,1703.3 1945.3,1698.8C1946.3,1694.3 1947.5,1688.3 1948.5,1683.8C1949.5,1679.3 1950.4,1674.7 1951.3,1671.7C1952.2,1668.7 1953.4,1666.8 1954.1,1665.7C1954.8,1664.5 1954.8,1663.5 1955.4,1664.7C1956.0,1665.9 1957.1,1667.6 1957.9,1672.9C1958.7,1678.3 1959.5,1690.0 1960.3,1697.1C1961.0,1704.1 1961.8,1710.9 1962.4,1715.2C1963.1,1719.4 1963.7,1721.2 1964.2,1722.7C1964.7,1724.2 1965.0,1724.7 1965.6,1723.9C1966.2,1723.1 1967.0,1722.2 1967.7,1718.2C1968.4,1714.2 1969.1,1707.4 1969.8,1700.1C1970.5,1692.8 1971.2,1683.0 1971.9,1674.5C1972.6,1666.0 1973.3,1656.7 1974.0,1648.9C1974.7,1641.1 1975.5,1632.4 1976.1,1627.8C1976.7,1623.1 1977.2,1622.3 1977.8,1621.0C1978.4,1619.7 1978.9,1619.4 1979.6,1620.2C1980.2,1621.1 1981.0,1622.2 1981.7,1626.2C1982.5,1630.3 1983.3,1638.1 1984.1,1644.4C1984.9,1650.6 1985.8,1657.1 1986.6,1663.9C1987.4,1670.7 1988.3,1678.5 1989.1,1685.0C1989.9,1691.6 1990.7,1698.1 1991.5,1703.1C1992.3,1708.1 1993.2,1712.4 1994.0,1715.2C1994.8,1717.9 1995.5,1718.8 1996.1,1719.7C1996.7,1720.6 1997.2,1721.2 1997.8,1720.4C1998.4,1719.7 1999.1,1719.1 1999.9,1715.2C2000.7,1711.3 2001.6,1703.8 2002.4,1697.1C2003.2,1690.3 2004.0,1681.0 2004.8,1674.5C2005.6,1668.0 2006.5,1661.8 2007.3,1657.9C2008.1,1654.0 2008.7,1652.4 2009.4,1651.1C2010.1,1649.8 2010.8,1649.4 2011.5,1650.1C2012.2,1650.7 2012.9,1651.1 2013.6,1654.9C2014.3,1658.7 2015.0,1666.4 2015.7,1672.9C2016.4,1679.5 2017.1,1687.0 2017.8,1694.1C2018.5,1701.1 2019.2,1709.1 2019.9,1715.2C2020.6,1721.2 2021.4,1726.7 2022.0,1730.2C2022.6,1733.7 2023.1,1735.0 2023.7,1736.2C2024.3,1737.4 2024.8,1738.2 2025.5,1737.4C2026.2,1736.7 2026.9,1735.4 2027.6,1731.7C2028.3,1728.0 2029.0,1721.5 2029.7,1715.2C2030.4,1708.9 2031.1,1700.8 2031.8,1694.1C2032.5,1687.3 2033.2,1680.5 2033.9,1674.5C2034.6,1668.5 2035.3,1662.4 2036.0,1657.9C2036.7,1653.4 2037.4,1649.9 2038.1,1647.4C2038.8,1644.9 2039.5,1643.7 2040.2,1642.8C2040.9,1642.0 2041.3,1641.3 2042.0,1642.1C2042.7,1642.8 2043.4,1644.0 2044.1,1647.4C2044.8,1650.8 2045.5,1656.1 2046.2,1662.4C2046.9,1668.7 2047.6,1677.5 2048.3,1685.0C2049.0,1692.6 2049.8,1701.8 2050.4,1707.6C2051.0,1713.4 2051.5,1716.7 2052.1,1719.7C2052.7,1722.7 2053.3,1724.6 2053.9,1725.7C2054.5,1726.8 2055.0,1727.2 2055.6,1726.4C2056.2,1725.7 2056.9,1722.8 2057.7,1721.2C2058.5,1719.6 2059.4,1717.6 2060.2,1716.7C2061.0,1715.8 2061.7,1715.7 2062.6,1715.9C2063.5,1716.2 2064.5,1716.9 2065.4,1718.2C2066.3,1719.4 2067.2,1721.4 2068.2,1723.4C2069.2,1725.4 2070.3,1728.0 2071.4,1730.2C2072.5,1732.5 2073.7,1734.9 2074.9,1737.0C2076.1,1739.2 2077.4,1741.2 2078.4,1743.0C2079.4,1744.9 2080.3,1746.4 2081.2,1748.3C2082.1,1750.2 2082.8,1752.1 2083.7,1754.3C2084.6,1756.6 2085.6,1759.4 2086.5,1761.9C2087.4,1764.4 2088.0,1767.4 2088.9,1769.4C2089.8,1771.4 2090.7,1772.5 2091.7,1773.9C2092.7,1775.3 2093.8,1776.4 2094.9,1777.7C2096.0,1778.9 2097.4,1779.8 2098.4,1781.4C2099.4,1783.1 2100.3,1785.2 2101.2,1787.5C2102.1,1789.7 2102.8,1792.8 2103.6,1795.0C2104.4,1797.3 2105.2,1799.3 2106.1,1801.0C2107.0,1802.8 2108.0,1804.5 2108.9,1805.6C2109.8,1806.6 2110.8,1807.2 2111.7,1807.4C2112.6,1807.5 2113.6,1807.0 2114.5,1806.3C2115.4,1805.6 2116.3,1804.0 2117.3,1803.3C2118.3,1802.5 2119.4,1801.8 2120.4,1801.8C2121.4,1801.8 2122.3,1802.4 2123.3,1803.3C2124.3,1804.2 2125.3,1805.9 2126.4,1807.1C2127.5,1808.2 2128.7,1808.8 2129.9,1810.1C2131.1,1811.3 2132.2,1813.0 2133.4,1814.6C2134.6,1816.2 2135.7,1818.5 2136.9,1819.9C2138.1,1821.3 2139.2,1822.1 2140.4,1822.9C2141.6,1823.6 2143.1,1824.4 2144.3,1824.4C2145.5,1824.4 2146.7,1824.0 2147.8,1822.9C2148.9,1821.8 2149.9,1820.0 2150.9,1817.6C2151.9,1815.2 2152.8,1812.1 2153.7,1808.6C2154.6,1805.1 2155.6,1800.0 2156.5,1796.5C2157.4,1793.0 2158.2,1789.3 2159.0,1787.5C2159.8,1785.6 2160.3,1785.2 2161.1,1785.2C2161.8,1785.2 2162.7,1786.1 2163.5,1787.5C2164.3,1788.8 2165.2,1791.0 2166.0,1793.5C2166.8,1796.0 2167.6,1799.5 2168.5,1802.5C2169.4,1805.6 2170.8,1810.1 2171.3,1811.6" fill="none" stroke="#000" stroke-width="6.0" stroke-linejoin="round" stroke-linecap="round"/></g>
<rect x="194.4" y="48.1" width="1978.2999999999997" height="1123.2" fill="none" stroke="#000" stroke-width="9.2"/>
<rect x="194.4" y="1329.5" width="1978.2999999999997" height="561.5" fill="none" stroke="#000" stroke-width="9.2"/>
<line x1="172.3" y1="50.6" x2="194.4" y2="50.6" stroke="#000" stroke-width="5"/>
<text class="b" transform="translate(118.92,64.6) scale(1.0192,1)" font-size="45">50</text>
<line x1="172.3" y1="275.1" x2="194.4" y2="275.1" stroke="#000" stroke-width="5"/>
<text class="b" transform="translate(118.92,289.1) scale(1.0192,1)" font-size="45">40</text>
<line x1="172.3" y1="499.7" x2="194.4" y2="499.7" stroke="#000" stroke-width="5"/>
<text class="b" transform="translate(118.92,513.7) scale(1.0192,1)" font-size="45">30</text>
<line x1="172.3" y1="724.6" x2="194.4" y2="724.6" stroke="#000" stroke-width="5"/>
<text class="b" transform="translate(118.92,738.6) scale(1.0192,1)" font-size="45">20</text>
<line x1="172.3" y1="949.2" x2="194.4" y2="949.2" stroke="#000" stroke-width="5"/>
<text class="b" transform="translate(118.92,963.2) scale(1.0192,1)" font-size="45">10</text>
<line x1="172.3" y1="1173.8" x2="194.4" y2="1173.8" stroke="#000" stroke-width="5"/>
<text class="b" transform="translate(144.38,1187.8) scale(1.0192,1)" font-size="45">0</text>
<line x1="172.3" y1="1443.9" x2="194.4" y2="1443.9" stroke="#000" stroke-width="5"/>
<text class="b" transform="translate(118.92,1457.9) scale(1.0192,1)" font-size="45">20</text>
<line x1="172.3" y1="1668.3" x2="194.4" y2="1668.3" stroke="#000" stroke-width="5"/>
<text class="b" transform="translate(118.92,1682.3) scale(1.0192,1)" font-size="45">10</text>
<line x1="172.3" y1="1893.4" x2="194.4" y2="1893.4" stroke="#000" stroke-width="5"/>
<text class="b" transform="translate(144.38,1907.4) scale(1.0192,1)" font-size="45">0</text>
<line x1="194.6" y1="1171.3" x2="194.6" y2="1201" stroke="#000" stroke-width="5"/>
<line x1="194.6" y1="1891.0" x2="194.6" y2="1920" stroke="#000" stroke-width="5"/>
<line x1="414.4" y1="1171.3" x2="414.4" y2="1201" stroke="#000" stroke-width="5"/>
<line x1="414.4" y1="1891.0" x2="414.4" y2="1920" stroke="#000" stroke-width="5"/>
<line x1="634.2" y1="1171.3" x2="634.2" y2="1201" stroke="#000" stroke-width="5"/>
<line x1="634.2" y1="1891.0" x2="634.2" y2="1920" stroke="#000" stroke-width="5"/>
<line x1="854.0" y1="1171.3" x2="854.0" y2="1201" stroke="#000" stroke-width="5"/>
<line x1="854.0" y1="1891.0" x2="854.0" y2="1920" stroke="#000" stroke-width="5"/>
<line x1="1073.8" y1="1171.3" x2="1073.8" y2="1201" stroke="#000" stroke-width="5"/>
<line x1="1073.8" y1="1891.0" x2="1073.8" y2="1920" stroke="#000" stroke-width="5"/>
<line x1="1293.7" y1="1171.3" x2="1293.7" y2="1201" stroke="#000" stroke-width="5"/>
<line x1="1293.7" y1="1891.0" x2="1293.7" y2="1920" stroke="#000" stroke-width="5"/>
<line x1="1513.5" y1="1171.3" x2="1513.5" y2="1201" stroke="#000" stroke-width="5"/>
<line x1="1513.5" y1="1891.0" x2="1513.5" y2="1920" stroke="#000" stroke-width="5"/>
<line x1="1733.3" y1="1171.3" x2="1733.3" y2="1201" stroke="#000" stroke-width="5"/>
<line x1="1733.3" y1="1891.0" x2="1733.3" y2="1920" stroke="#000" stroke-width="5"/>
<line x1="1953.1" y1="1171.3" x2="1953.1" y2="1201" stroke="#000" stroke-width="5"/>
<line x1="1953.1" y1="1891.0" x2="1953.1" y2="1920" stroke="#000" stroke-width="5"/>
<line x1="2172.9" y1="1171.3" x2="2172.9" y2="1201" stroke="#000" stroke-width="5"/>
<line x1="2172.9" y1="1891.0" x2="2172.9" y2="1920" stroke="#000" stroke-width="5"/>
<text class="b" transform="translate(254.02,1249.00) scale(1.0672,1)" font-size="42.5">2002</text>
<text class="b" transform="translate(254.02,1968.30) scale(1.0672,1)" font-size="42.5">2002</text>
<text class="b" transform="translate(473.83,1249.00) scale(1.0647,1)" font-size="42.5">2003</text>
<text class="b" transform="translate(473.83,1968.30) scale(1.0647,1)" font-size="42.5">2003</text>
<text class="b" transform="translate(693.67,1249.00) scale(1.0501,1)" font-size="42.5">2004</text>
<text class="b" transform="translate(693.67,1968.30) scale(1.0501,1)" font-size="42.5">2004</text>
<text class="b" transform="translate(913.46,1249.00) scale(1.0610,1)" font-size="42.5">2005</text>
<text class="b" transform="translate(913.46,1968.30) scale(1.0610,1)" font-size="42.5">2005</text>
<text class="b" transform="translate(1133.27,1249.00) scale(1.0647,1)" font-size="42.5">2006</text>
<text class="b" transform="translate(1133.27,1968.30) scale(1.0647,1)" font-size="42.5">2006</text>
<text class="b" transform="translate(1353.07,1249.00) scale(1.0684,1)" font-size="42.5">2007</text>
<text class="b" transform="translate(1353.07,1968.30) scale(1.0684,1)" font-size="42.5">2007</text>
<text class="b" transform="translate(1572.89,1249.00) scale(1.0622,1)" font-size="42.5">2008</text>
<text class="b" transform="translate(1572.89,1968.30) scale(1.0622,1)" font-size="42.5">2008</text>
<text class="b" transform="translate(1792.70,1249.00) scale(1.0647,1)" font-size="42.5">2009</text>
<text class="b" transform="translate(1792.70,1968.30) scale(1.0647,1)" font-size="42.5">2009</text>
<text class="b" transform="translate(2012.51,1249.00) scale(1.0672,1)" font-size="42.5">2010</text>
<text class="b" transform="translate(2012.51,1968.30) scale(1.0672,1)" font-size="42.5">2010</text>
<text class="m" transform="translate(216.05,125.20) scale(1.0823,1)" font-size="56.5" style="stroke-width:2.4px">Mississippi</text>
<text class="m" transform="translate(218.25,1405.40) scale(1.0906,1)" font-size="56.5" style="stroke-width:2.4px">Atchafalaya</text>
<text class="m" x="1351.1 1383.7 1421.4 1444.0 1475.0 1515.0 1533.0 1578.0 1594.8 1630.9 1648.6 1682.8 1725.0 1739.1 1771.8" y="123.2" font-size="51">14.80 ± 7.12 10</text>
<text class="m" transform="translate(1801.60,101.00) scale(0.9145,1)" font-size="32" style="stroke-width:2px">3</text>
<text class="m" transform="translate(1815.12,123.20) scale(1.1120,1)" font-size="51">m</text>
<text class="m" transform="translate(1858.49,101.00) scale(0.9211,1)" font-size="32" style="stroke-width:2px">3</text>
<text transform="translate(1877.04,130.82) skewX(-15.46)" font-size="68.4" stroke="#000" stroke-width="2.4" stroke-linejoin="round">/</text>
<text class="m" transform="translate(1912.56,123.20) scale(0.9232,1)" font-size="51">s</text>
<text class="m" x="1384.3 1421.4 1443.5 1475.0 1515.0 1533.0 1578.0 1595.0 1630.9 1655.5 1682.8 1725.0 1739.1 1771.8" y="1403.2" font-size="51">6.35 ± 3.07 10</text>
<text class="m" transform="translate(1801.60,1381.00) scale(0.9145,1)" font-size="32" style="stroke-width:2px">3</text>
<text class="m" transform="translate(1815.12,1403.20) scale(1.1120,1)" font-size="51">m</text>
<text class="m" transform="translate(1858.49,1381.00) scale(0.9211,1)" font-size="32" style="stroke-width:2px">3</text>
<text transform="translate(1877.04,1410.82) skewX(-15.46)" font-size="68.4" stroke="#000" stroke-width="2.4" stroke-linejoin="round">/</text>
<text class="m" transform="translate(1912.56,1403.20) scale(0.9232,1)" font-size="51">s</text>
<text class="m" transform="translate(800.93,2036.30) scale(1.1340,1)" font-size="43.8" style="stroke-width:2.5px">Army</text>
<text class="m" transform="translate(943.93,2036.30) scale(1.1519,1)" font-size="43.8" style="stroke-width:2.5px">Corps</text>
<text class="m" transform="translate(1104.94,2036.30) scale(1.2388,1)" font-size="43.8" style="stroke-width:2.5px">of</text>
<text class="m" transform="translate(1175.81,2036.30) scale(1.1736,1)" font-size="43.8" style="stroke-width:2.5px">Engineers</text>
<text class="m" transform="translate(1445.72,2036.30) scale(0.9815,1)" font-size="43.8" style="stroke-width:2.5px">USGS</text>
<text transform="translate(1410.30,2045.16) skewX(-16.87)" font-size="64.4" stroke="#000" stroke-width="2.4" stroke-linejoin="round">/</text>
<g transform="translate(76.6,846.2) rotate(-90)">
<text class="b" transform="translate(-2.86,0.00) scale(0.9021,1)" font-size="47">River</text>
<text class="b" transform="translate(123.88,0.00) scale(0.8886,1)" font-size="47">Flow</text>
<text class="m" transform="translate(240.85,0.00) scale(1.0710,1)" font-size="53" style="stroke-width:2.6px">(</text>
<text class="b" transform="translate(257.66,0.00) scale(0.9334,1)" font-size="47">10</text>
<text class="b" transform="translate(306.56,-19.60) scale(0.8777,1)" font-size="30" style="stroke:#000;stroke-width:.9px">3</text>
<text class="b" transform="translate(344.48,0.00) scale(0.9571,1)" font-size="47">m</text>
<text class="b" transform="translate(387.86,-19.60) scale(0.8777,1)" font-size="30" style="stroke:#000;stroke-width:.9px">3</text>
<text transform="translate(404.19,8.73) skewX(-11.79)" font-size="67.1" stroke="#000" stroke-width="1.2" stroke-linejoin="round">/</text>
<text class="b" transform="translate(434.22,0.00) scale(0.8998,1)" font-size="47">s</text>
<text class="m" transform="translate(459.79,0.00) scale(1.0207,1)" font-size="53" style="stroke-width:2.6px">)</text>
</g>
<g transform="translate(76.6,1846.0) rotate(-90)">
<text class="b" transform="translate(-2.86,0.00) scale(0.9021,1)" font-size="47">River</text>
<text class="b" transform="translate(123.88,0.00) scale(0.8886,1)" font-size="47">Flow</text>
<text class="m" transform="translate(240.85,0.00) scale(1.0710,1)" font-size="53" style="stroke-width:2.6px">(</text>
<text class="b" transform="translate(257.66,0.00) scale(0.9334,1)" font-size="47">10</text>
<text class="b" transform="translate(306.56,-19.60) scale(0.8777,1)" font-size="30" style="stroke:#000;stroke-width:.9px">3</text>
<text class="b" transform="translate(344.48,0.00) scale(0.9571,1)" font-size="47">m</text>
<text class="b" transform="translate(387.86,-19.60) scale(0.8777,1)" font-size="30" style="stroke:#000;stroke-width:.9px">3</text>
<text transform="translate(404.19,8.73) skewX(-11.79)" font-size="67.1" stroke="#000" stroke-width="1.2" stroke-linejoin="round">/</text>
<text class="b" transform="translate(434.22,0.00) scale(0.8998,1)" font-size="47">s</text>
<text class="m" transform="translate(459.79,0.00) scale(1.0207,1)" font-size="53" style="stroke-width:2.6px">)</text>
</g>
</g></svg></body></html>
